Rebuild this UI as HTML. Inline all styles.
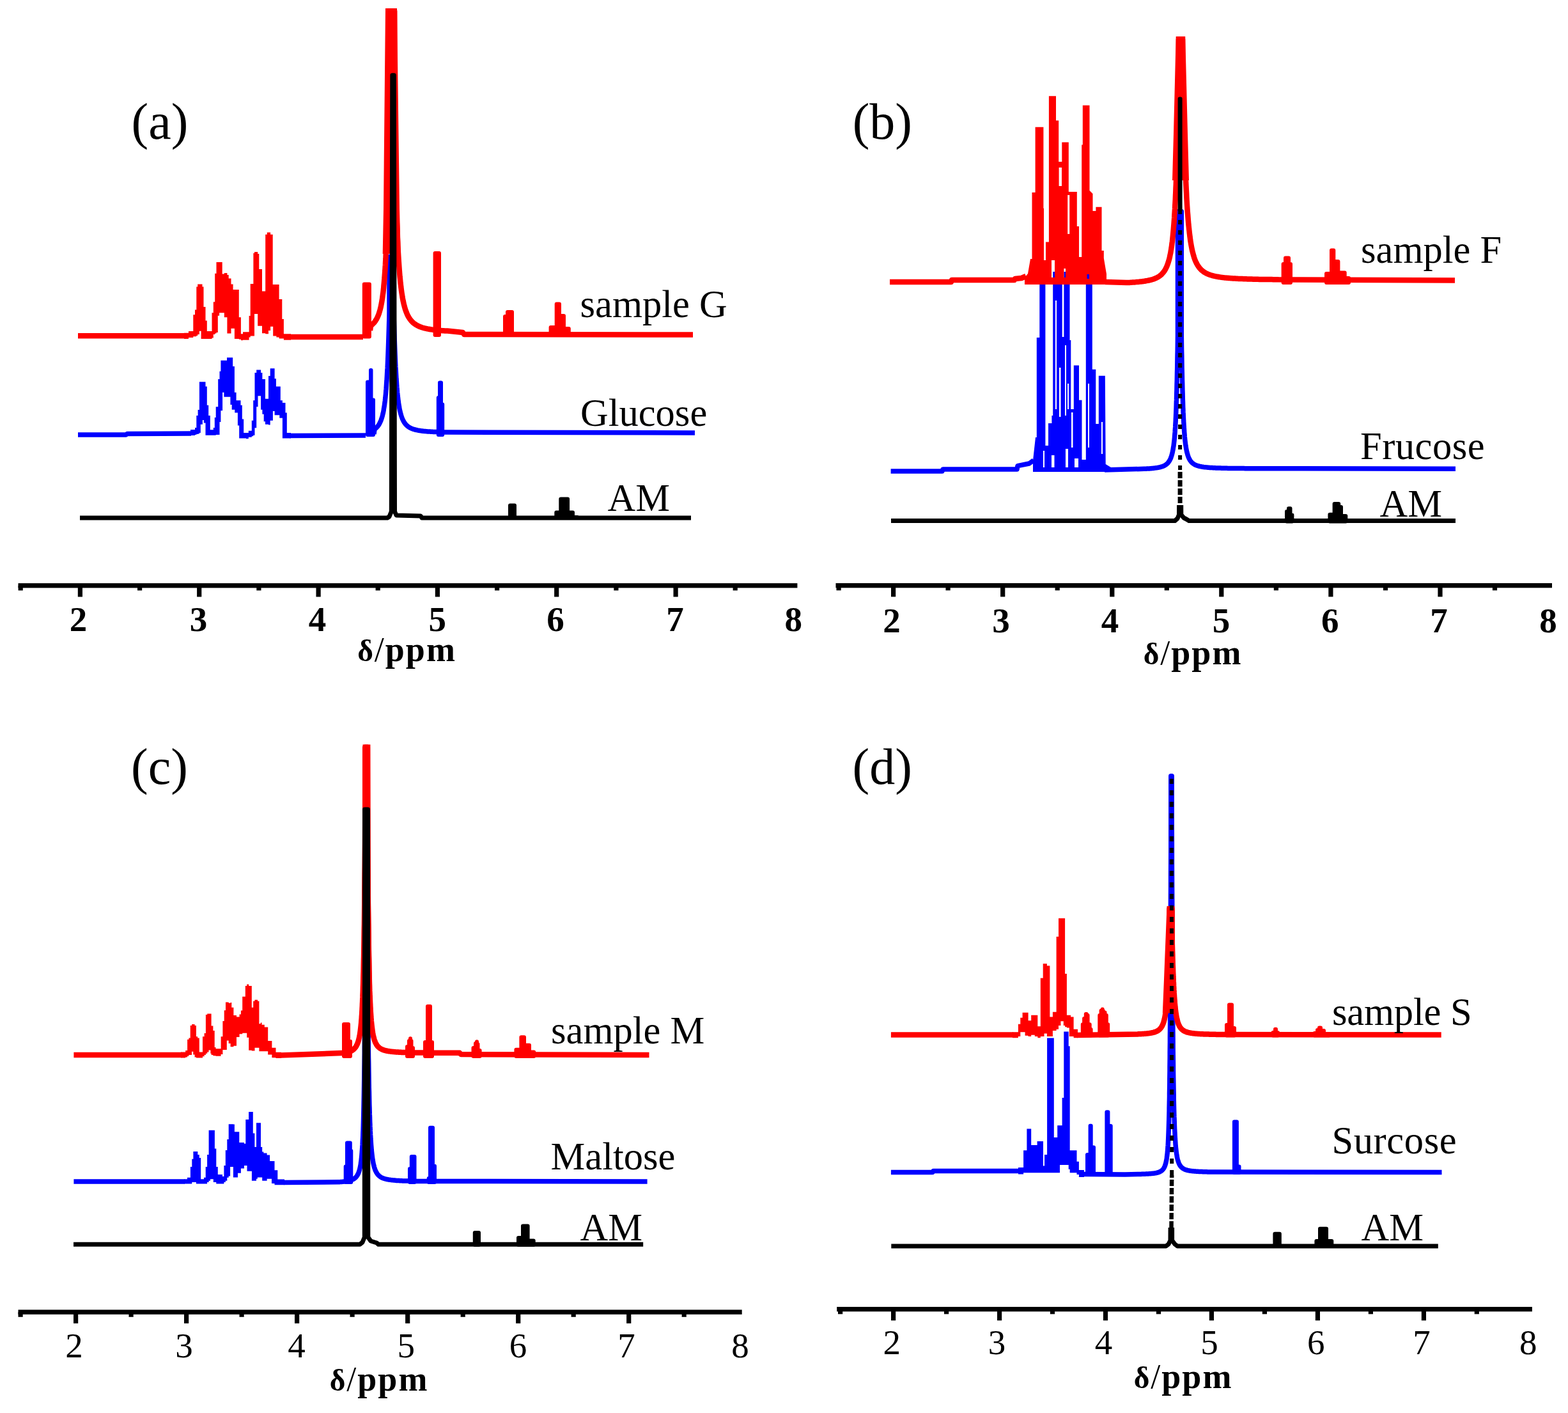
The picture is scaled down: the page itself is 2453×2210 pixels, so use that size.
<!DOCTYPE html>
<html><head><meta charset="utf-8"><title>NMR spectra</title>
<style>html,body{margin:0;padding:0;background:#fff;} svg{display:block;}</style></head>
<body><svg xmlns="http://www.w3.org/2000/svg" width="2453" height="2210" viewBox="0 0 2453 2210" font-family='"Liberation Serif", "Times New Roman", serif' fill="#000">
<rect width="2453" height="2210" fill="#fff"/>
<polygon points="298.0,672.0 305.0,672.0 305.0,669.0 307.3,669.0 307.3,650.0 309.6,650.0 309.6,641.0 311.9,641.0 311.9,597.3 313.8,597.3 313.8,597.3 316.9,597.3 316.9,597.3 318.8,597.3 318.8,597.3 321.5,597.3 321.5,604.6 323.8,604.6 323.8,633.8 326.2,633.8 326.2,650.0 328.8,650.0 328.8,672.3 333.8,672.3 333.8,669.0 335.8,669.0 335.8,653.0 337.7,653.0 337.7,636.2 341.2,636.2 341.2,593.1 343.5,593.1 343.5,580.8 345.4,580.8 345.4,563.8 348.1,563.8 348.1,563.8 350.4,563.8 350.4,563.8 355.0,563.8 355.0,559.2 360.4,559.2 360.4,559.2 362.7,559.2 362.7,559.2 364.2,559.2 364.2,573.1 366.9,573.1 366.9,613.8 367.3,613.8 367.3,613.8 369.6,613.8 369.6,626.2 371.9,626.2 371.9,626.2 374.2,626.2 374.2,626.2 376.5,626.2 376.5,633.8 378.8,633.8 378.8,655.4 381.2,655.4 381.2,677.0 385.0,677.0 385.0,677.0 388.8,677.0 388.8,673.8 393.8,673.8 393.8,657.7 396.2,657.7 396.2,626.2 398.5,626.2 398.5,583.1 401.2,583.1 401.2,578.5 403.5,578.5 403.5,578.5 405.8,578.5 405.8,578.5 408.1,578.5 408.1,583.1 410.4,583.1 410.4,593.1 412.7,593.1 412.7,593.1 415.0,593.1 415.0,623.8 420.0,623.8 420.0,588.0 422.7,588.0 422.7,576.2 426.9,576.2 426.9,576.2 429.6,576.2 429.6,592.3 431.9,592.3 431.9,604.6 437.3,604.6 437.3,604.6 438.8,604.6 438.8,626.2 441.9,626.2 441.9,630.0 446.5,630.0 446.5,645.4 448.8,645.4 448.8,677.0 455.0,677.0 455.0,685.4 448.8,685.4 448.8,685.4 446.5,685.4 446.5,685.4 441.9,685.4 441.9,653.8 438.8,653.8 438.8,653.8 437.3,653.8 437.3,649.2 431.9,649.2 431.9,649.2 429.6,649.2 429.6,643.0 426.9,643.0 426.9,657.7 422.7,657.7 422.7,664.6 420.0,664.6 420.0,663.8 415.0,663.8 415.0,659.2 412.7,659.2 412.7,647.7 410.4,647.7 410.4,640.8 408.1,640.8 408.1,619.2 405.8,619.2 405.8,619.2 403.5,619.2 403.5,636.2 401.2,636.2 401.2,669.2 398.5,669.2 398.5,680.8 396.2,680.8 396.2,682.3 393.8,682.3 393.8,683.8 388.8,683.8 388.8,686.2 385.0,686.2 385.0,685.4 381.2,685.4 381.2,685.4 378.8,685.4 378.8,685.4 376.5,685.4 376.5,685.4 374.2,685.4 374.2,665.4 371.9,665.4 371.9,645.4 369.6,645.4 369.6,645.4 367.3,645.4 367.3,640.8 366.9,640.8 366.9,640.8 364.2,640.8 364.2,640.8 362.7,640.8 362.7,633.1 360.4,633.1 360.4,620.8 355.0,620.8 355.0,620.8 350.4,620.8 350.4,613.8 348.1,613.8 348.1,642.3 345.4,642.3 345.4,660.0 343.5,660.0 343.5,680.0 341.2,680.0 341.2,680.0 337.7,680.0 337.7,680.8 335.8,680.8 335.8,680.8 333.8,680.8 333.8,680.8 328.8,680.8 328.8,680.8 326.2,680.8 326.2,680.8 323.8,680.8 323.8,680.8 321.5,680.8 321.5,661.5 318.8,661.5 318.8,657.0 316.9,657.0 316.9,663.8 313.8,663.8 313.8,677.0 311.9,677.0 311.9,678.5 309.6,678.5 309.6,679.0 307.3,679.0 307.3,680.0 305.0,680.0 305.0,681.0 298.0,681.0" fill="#0000ff" stroke="none"/>
<polygon points="575.0,680.0 575.0,597.5 580.0,597.5 580.0,579.0 580.5,579.0 580.5,625.6 584.0,625.6 584.0,680.0" fill="#0000ff" stroke="#0000ff" stroke-width="6.0" stroke-linejoin="round"/>
<polygon points="685.8,680.0 685.8,622.0 688.0,622.0 688.0,598.4 690.0,598.4 690.0,632.6 692.2,632.6 692.2,680.0" fill="#0000ff" stroke="#0000ff" stroke-width="6.0" stroke-linejoin="round"/>
<polyline points="122.0,680.0 197.0,680.0 199.0,678.5 299.0,678.0" fill="none" stroke="#0000ff" stroke-width="7.5" stroke-linejoin="round" stroke-linecap="butt"/>
<polyline points="453.0,681.5 572.0,681.0" fill="none" stroke="#0000ff" stroke-width="7.5" stroke-linejoin="round" stroke-linecap="butt"/>
<polyline points="585.0,679.0 586.0,671.4 586.3,671.2 586.9,670.8 587.4,670.3 587.9,669.9 588.4,669.4 589.0,668.9 589.4,668.4 589.9,667.9 590.4,667.4 590.9,666.8 591.3,666.2 591.8,665.6 592.2,664.9 592.7,664.3 593.1,663.6 593.5,662.9 593.9,662.1 594.3,661.3 594.7,660.5 595.1,659.6 595.5,658.7 595.9,657.8 596.2,656.9 596.6,655.8 596.9,654.8 597.3,653.7 597.6,652.6 598.0,651.4 598.3,650.1 598.6,648.9 598.9,647.5 599.3,646.1 599.6,644.7 599.9,643.2 600.2,641.6 600.4,639.9 600.7,638.2 601.0,636.5 601.3,634.6 601.6,632.7 601.8,630.6 602.1,628.6 602.4,626.4 602.6,624.1 602.9,621.7 603.1,619.2 603.4,616.7 603.6,614.0 603.8,611.2 604.1,608.3 604.3,605.3 604.5,602.1 604.7,598.8 605.0,595.4 605.2,591.8 605.4,588.1 605.6,584.2 605.8,580.2 606.1,576.0 606.3,571.6 606.5,567.1 606.7,562.3 606.9,557.4 607.1,552.2 607.3,546.9 607.5,541.3 607.7,535.5 607.9,529.4 608.1,523.1 608.3,516.5 608.5,509.7 608.7,502.5 608.9,495.1 609.0,487.3 609.0,479.3 609.0,470.9 609.0,462.1 609.0,453.0 609.0,443.5 609.0,433.6 609.0,423.3 609.0,412.5 609.0,401.4 616.0,401.4 616.0,412.4 616.0,423.0 616.0,433.1 616.0,442.9 616.0,452.2 616.0,461.2 616.0,469.9 616.0,478.1 616.0,486.1 616.1,493.7 616.3,501.1 616.5,508.1 616.7,514.9 616.9,521.3 617.1,527.6 617.3,533.6 617.5,539.3 617.7,544.8 617.9,550.1 618.1,555.2 618.3,560.0 618.5,564.7 618.7,569.2 618.9,573.5 619.2,577.7 619.4,581.6 619.6,585.4 619.8,589.1 620.0,592.6 620.3,596.0 620.5,599.2 620.7,602.3 620.9,605.3 621.2,608.2 621.4,611.0 621.6,613.6 621.9,616.1 622.1,618.6 622.4,620.9 622.6,623.1 622.9,625.3 623.2,627.4 623.4,629.4 623.7,631.3 624.0,633.1 624.3,634.8 624.6,636.5 624.8,638.2 625.1,639.7 625.4,641.2 625.7,642.6 626.1,644.0 626.4,645.3 626.7,646.6 627.0,647.8 627.4,649.0 627.7,650.1 628.1,651.2 628.4,652.2 628.8,653.2 629.1,654.1 629.5,655.1 629.9,655.9 630.3,656.8 630.7,657.6 631.1,658.4 631.5,659.1 631.9,659.8 632.3,660.5 632.8,661.2 633.2,661.8 633.7,662.4 634.1,663.0 634.6,663.6 635.1,664.1 635.6,664.6 636.0,665.1 636.6,665.6 637.1,666.0 637.6,666.5 638.1,666.9 638.7,667.3 639.2,667.7 639.8,668.1 640.4,668.4 641.0,668.8 641.6,669.1 642.2,669.4 642.8,669.7 643.5,670.0 644.1,670.3 644.8,670.6 645.5,670.8 646.2,671.1 646.9,671.3 647.6,671.5 648.4,671.7 649.1,672.0 649.9,672.2 650.7,672.3 651.5,672.5 652.3,672.7 653.1,672.9 654.0,673.1 654.8,673.2 655.7,673.4 656.6,673.5 657.5,673.6 658.5,673.8 659.4,673.9 660.4,674.0 661.4,674.2 662.4,674.3 663.5,674.4 664.5,674.5 665.6,674.6 666.7,674.7 667.9,674.8 669.0,674.9 670.2,674.9 671.4,675.0 672.6,675.1 673.9,675.2 675.1,675.3 676.4,675.3 677.8,675.4 679.1,675.5 680.5,675.5 681.9,675.6 683.3,675.6 684.8,675.7 686.3,675.7 687.8,675.8 689.4,675.8 691.0,675.9 692.6,675.9 694.3,676.0 696.0,676.0 697.7,676.1 699.4,676.1 700.0,676.1 1087.0,677.0" fill="none" stroke="#0000ff" stroke-width="7.5" stroke-linejoin="round" stroke-linecap="butt"/>
<polygon points="288.0,520.8 295.0,520.8 295.0,518.0 302.3,518.0 302.3,492.3 305.0,492.3 305.0,484.6 307.3,484.6 307.3,448.5 309.2,448.5 309.2,444.6 311.9,444.6 311.9,444.6 314.6,444.6 314.6,444.6 316.5,444.6 316.5,448.5 318.5,448.5 318.5,480.0 321.5,480.0 321.5,501.5 323.8,501.5 323.8,518.0 331.5,518.0 331.5,489.2 333.8,489.2 333.8,472.3 336.2,472.3 336.2,427.7 338.5,427.7 338.5,410.0 340.8,410.0 340.8,410.0 343.1,410.0 343.1,410.0 347.7,410.0 347.7,428.5 350.8,428.5 350.8,426.9 355.4,426.9 355.4,430.0 357.7,430.0 357.7,435.4 361.5,435.4 361.5,444.6 364.6,444.6 364.6,453.0 366.9,453.0 366.9,453.0 373.8,453.0 373.8,496.2 376.9,496.2 376.9,522.3 380.0,522.3 380.0,519.2 389.6,519.2 389.6,494.1 391.7,494.1 391.7,444.0 396.4,444.0 396.4,396.0 398.0,396.0 398.0,393.9 400.0,393.9 400.0,393.9 403.2,393.9 403.2,397.0 405.3,397.0 405.3,421.0 410.0,421.0 410.0,455.5 415.2,455.5 415.2,366.7 417.8,366.7 417.8,363.6 420.0,363.6 420.0,363.6 423.1,363.6 423.1,366.7 426.7,366.7 426.7,445.0 427.2,445.0 427.2,445.0 432.4,445.0 432.4,445.0 436.6,445.0 436.6,468.0 441.3,468.0 441.3,499.0 443.9,499.0 443.9,522.3 455.0,522.3 455.0,531.7 443.9,531.7 443.9,529.6 441.3,529.6 441.3,529.6 436.6,529.6 436.6,527.5 432.4,527.5 432.4,525.5 427.2,525.5 427.2,510.8 426.7,510.8 426.7,510.8 423.1,510.8 423.1,517.0 420.0,517.0 420.0,522.3 417.8,522.3 417.8,522.3 415.2,522.3 415.2,521.3 410.0,521.3 410.0,509.8 405.3,509.8 405.3,509.8 403.2,509.8 403.2,491.0 400.0,491.0 400.0,491.0 398.0,491.0 398.0,525.5 396.4,525.5 396.4,525.5 391.7,525.5 391.7,527.5 389.6,527.5 389.6,531.7 380.0,531.7 380.0,532.3 376.9,532.3 376.9,530.8 373.8,530.8 373.8,530.0 366.9,530.0 366.9,513.8 364.6,513.8 364.6,513.8 361.5,513.8 361.5,521.5 357.7,521.5 357.7,521.5 355.4,521.5 355.4,496.2 350.8,496.2 350.8,489.2 347.7,489.2 347.7,489.2 343.1,489.2 343.1,493.8 340.8,493.8 340.8,520.0 338.5,520.0 338.5,521.5 336.2,521.5 336.2,523.0 333.8,523.0 333.8,528.5 331.5,528.5 331.5,530.0 323.8,530.0 323.8,530.0 321.5,530.0 321.5,530.0 318.5,530.0 318.5,530.0 316.5,530.0 316.5,530.0 314.6,530.0 314.6,517.7 311.9,517.7 311.9,523.0 309.2,523.0 309.2,525.0 307.3,525.0 307.3,526.2 305.0,526.2 305.0,526.2 302.3,526.2 302.3,528.0 295.0,528.0 295.0,530.0 288.0,530.0" fill="#ff0000" stroke="none"/>
<polygon points="569.8,526.5 569.8,444.5 577.9,444.5 577.9,526.5" fill="#ff0000" stroke="#ff0000" stroke-width="6.0" stroke-linejoin="round"/>
<polygon points="680.6,524.0 680.6,396.0 687.0,396.0 687.0,524.0" fill="#ff0000" stroke="#ff0000" stroke-width="6.0" stroke-linejoin="round"/>
<polygon points="790.0,524.0 790.0,495.0 794.0,495.0 794.0,488.0 801.0,488.0 801.0,524.0" fill="#ff0000" stroke="#ff0000" stroke-width="6.0" stroke-linejoin="round"/>
<polygon points="861.6,524.0 861.6,512.0 870.7,512.0 870.7,475.4 875.0,475.4 875.0,494.0 882.0,494.0 882.0,514.0 889.8,514.0 889.8,524.0" fill="#ff0000" stroke="#ff0000" stroke-width="6.0" stroke-linejoin="round"/>
<polyline points="122.0,525.2 289.0,525.2" fill="none" stroke="#ff0000" stroke-width="8.5" stroke-linejoin="round" stroke-linecap="butt"/>
<polyline points="454.0,527.0 568.0,527.0" fill="none" stroke="#ff0000" stroke-width="8.5" stroke-linejoin="round" stroke-linecap="butt"/>
<polyline points="579.0,517.0 580.0,509.4 580.2,509.2 580.9,508.7 581.5,508.2 582.2,507.7 582.8,507.1 583.4,506.6 584.0,505.9 584.6,505.3 585.2,504.7 585.8,504.0 586.3,503.3 586.9,502.5 587.4,501.8 587.9,501.0 588.4,500.1 589.0,499.3 589.4,498.4 589.9,497.4 590.4,496.4 590.9,495.4 591.3,494.3 591.8,493.2 592.2,492.1 592.7,490.9 593.1,489.6 593.5,488.3 593.9,487.0 594.3,485.5 594.7,484.1 595.1,482.5 595.5,480.9 595.9,479.2 596.2,477.5 596.6,475.7 596.9,473.8 597.3,471.8 597.6,469.8 598.0,467.7 598.3,465.4 598.6,463.1 598.9,460.7 599.3,458.2 599.6,455.6 599.9,452.8 600.2,450.0 600.4,447.0 600.7,444.0 601.0,440.8 601.3,437.4 601.6,433.9 601.8,430.3 602.1,426.5 602.4,422.6 602.6,418.5 602.9,414.2 603.1,409.8 603.4,405.1 603.6,400.3 603.8,395.3 604.1,390.0 604.3,384.6 604.5,378.9 604.7,373.0 605.0,366.8 605.2,360.4 605.4,353.7 605.6,346.7 605.8,339.5 606.1,331.9 606.3,324.0 606.5,315.8 606.7,307.2 606.9,298.3 607.1,289.1 607.3,279.4 607.5,269.3 607.7,258.8 607.8,247.9 607.8,236.5 607.8,224.7 607.8,212.3 607.8,199.5 607.8,186.1 607.8,172.1 607.8,157.6 607.8,142.5 607.8,126.7 607.8,110.3 607.8,93.1 607.8,75.3 607.8,56.7 607.8,37.4 607.8,17.2 617.2,17.2 617.2,37.4 617.2,56.7 617.2,75.2 617.2,93.0 617.2,110.1 617.2,126.5 617.2,142.2 617.2,157.3 617.2,171.8 617.2,185.8 617.2,199.1 617.3,212.0 617.5,224.3 617.8,236.1 618.0,247.5 618.3,258.4 618.5,268.8 618.7,278.9 619.0,288.5 619.2,297.8 619.5,306.7 619.7,315.2 620.0,323.4 620.2,331.3 620.5,338.8 620.7,346.1 621.0,353.0 621.3,359.7 621.5,366.1 621.8,372.3 622.1,378.2 622.3,383.8 622.6,389.3 622.9,394.5 623.2,399.5 623.5,404.4 623.8,409.0 624.1,413.4 624.4,417.7 624.7,421.8 625.0,425.7 625.3,429.5 625.6,433.1 626.0,436.6 626.3,439.9 626.6,443.1 627.0,446.2 627.3,449.1 627.7,452.0 628.0,454.7 628.4,457.3 628.8,459.8 629.2,462.2 629.5,464.5 629.9,466.8 630.3,468.9 630.7,470.9 631.2,472.9 631.6,474.8 632.0,476.6 632.5,478.3 632.9,480.0 633.4,481.6 633.8,483.1 634.3,484.6 634.8,486.0 635.3,487.4 635.8,488.7 636.3,489.9 636.8,491.1 637.3,492.3 637.9,493.4 638.4,494.5 639.0,495.5 639.6,496.5 640.2,497.4 640.8,498.3 641.4,499.2 642.0,500.0 642.6,500.8 643.3,501.6 643.9,502.3 644.6,503.0 645.3,503.7 646.0,504.4 646.7,505.0 647.4,505.6 648.2,506.2 648.9,506.7 649.7,507.2 650.5,507.8 651.3,508.2 652.1,508.7 652.9,509.2 653.8,509.6 654.6,510.0 655.5,510.4 656.4,510.8 657.4,511.2 658.3,511.5 659.3,511.9 660.2,512.2 661.2,512.5 662.3,512.8 663.3,513.1 664.4,513.4 665.5,513.6 666.6,513.9 667.7,514.1 668.8,514.4 670.0,514.6 671.2,514.8 672.4,515.0 673.7,515.2 675.0,515.4 676.3,515.6 677.6,515.8 678.9,515.9 680.3,516.1 681.7,516.3 683.2,516.4 684.6,516.5 686.1,516.7 687.7,516.8 689.2,516.9 690.8,517.1 692.4,517.2 694.1,517.3 695.8,517.4 697.5,517.5 699.3,517.6 700.0,517.6 724.0,520.0 726.0,523.0 1084.0,523.5" fill="none" stroke="#ff0000" stroke-width="8.5" stroke-linejoin="round" stroke-linecap="butt"/>
<polygon points="603.0,13.0 621.0,13.0 625.0,326.0 626.8,397.0 598.7,397.0 600.0,326.0" fill="#ff0000" stroke="none"/>
<polygon points="798.0,810.0 798.0,790.5 805.0,790.5 805.0,810.0" fill="#000000" stroke="#000000" stroke-width="6.0" stroke-linejoin="round"/>
<polygon points="870.3,810.0 870.3,801.4 877.3,801.4 877.3,780.6 888.1,780.6 888.1,801.4 896.0,801.4 896.0,809.0 903.0,809.0 903.0,810.0" fill="#000000" stroke="#000000" stroke-width="6.0" stroke-linejoin="round"/>
<polyline points="125.0,810.0 606.0,810.0 609.0,808.0 612.3,800.0 613.8,117.7 616.3,117.7 617.5,800.0 620.0,806.0 658.0,807.0 660.0,810.0 1081.0,810.0" fill="none" stroke="#000000" stroke-width="7.0" stroke-linejoin="round" stroke-linecap="butt"/>
<path d="M1616.0,738.0 L1616.0,720.0 L1620.0,684.0 L1621.8,684.0 L1621.8,528.0 L1626.3,528.0 L1626.3,425.0 L1635.4,425.0 L1635.4,697.0 L1640.0,697.0 L1640.0,662.0 L1645.4,662.0 L1645.4,650.0 L1647.2,650.0 L1647.2,425.0 L1661.7,425.0 L1661.7,527.0 L1664.4,527.0 L1664.4,425.0 L1673.5,425.0 L1673.5,532.0 L1675.3,532.0 L1675.3,640.0 L1679.8,640.0 L1679.8,571.4 L1688.0,571.4 L1688.0,625.8 L1692.5,625.8 L1692.5,719.0 L1698.8,719.0 L1698.8,425.0 L1708.8,425.0 L1708.8,577.7 L1714.3,577.7 L1714.3,663.0 L1718.8,663.0 L1718.8,587.7 L1728.8,587.7 L1729.7,726.0 L1739.6,732.0 L1739.6,738.0 Z M1651.0,470.0 L1653.0,470.0 L1653.0,640.0 L1651.0,640.0 Z M1657.0,575.0 L1659.5,575.0 L1659.5,652.0 L1657.0,652.0 Z M1666.0,540.0 L1668.0,540.0 L1668.0,650.0 L1666.0,650.0 Z M1670.0,600.0 L1672.0,600.0 L1672.0,640.0 L1670.0,640.0 Z M1676.0,645.0 L1678.5,645.0 L1678.5,700.0 L1676.0,700.0 Z M1645.0,712.0 L1649.5,712.0 L1649.5,731.0 L1645.0,731.0 Z M1667.0,702.0 L1671.0,702.0 L1671.0,731.0 L1667.0,731.0 Z M1681.0,717.0 L1687.0,717.0 L1687.0,731.0 L1681.0,731.0 Z M1632.0,705.0 L1634.0,705.0 L1634.0,731.0 L1632.0,731.0 Z M1702.0,600.0 L1704.0,600.0 L1704.0,700.0 L1702.0,700.0 Z M1723.0,660.0 L1725.0,660.0 L1725.0,710.0 L1723.0,710.0 Z" fill="#0000ff" fill-rule="evenodd"/>
<polyline points="1393.6,737.0 1474.0,737.0 1475.0,734.0 1591.0,734.0 1592.0,728.7 1610.0,725.0 1617.0,720.0" fill="none" stroke="#0000ff" stroke-width="7.5" stroke-linejoin="round" stroke-linecap="butt"/>
<polyline points="1728.0,735.0 1790.0,733.3 1791.0,733.3 1792.2,733.2 1793.2,733.2 1794.3,733.1 1795.3,733.1 1796.3,733.0 1797.3,732.9 1798.3,732.9 1799.3,732.8 1800.2,732.7 1801.1,732.7 1802.0,732.6 1802.9,732.5 1803.8,732.4 1804.6,732.3 1805.4,732.2 1806.2,732.1 1807.0,732.0 1807.8,731.9 1808.6,731.8 1809.3,731.7 1810.1,731.6 1810.8,731.5 1811.5,731.4 1812.2,731.2 1812.9,731.1 1813.5,731.0 1814.2,730.8 1814.8,730.7 1815.4,730.5 1816.0,730.3 1816.6,730.2 1817.2,730.0 1817.8,729.8 1818.4,729.6 1818.9,729.4 1819.5,729.2 1820.0,728.9 1820.5,728.7 1821.0,728.5 1821.5,728.2 1822.0,728.0 1822.5,727.7 1823.0,727.4 1823.4,727.1 1823.9,726.8 1824.3,726.5 1824.8,726.1 1825.2,725.8 1825.6,725.4 1826.0,725.1 1826.4,724.7 1826.8,724.3 1827.2,723.8 1827.6,723.4 1827.9,722.9 1828.3,722.4 1828.7,721.9 1829.0,721.4 1829.4,720.9 1829.7,720.3 1830.0,719.7 1830.3,719.1 1830.7,718.4 1831.0,717.8 1831.3,717.1 1831.6,716.4 1831.9,715.6 1832.1,714.8 1832.4,714.0 1832.7,713.1 1833.0,712.2 1833.2,711.3 1833.5,710.4 1833.8,709.3 1834.0,708.3 1834.3,707.2 1834.5,706.1 1834.7,704.9 1835.0,703.7 1835.2,702.4 1835.4,701.0 1835.6,699.6 1835.9,698.2 1836.1,696.7 1836.3,695.1 1836.5,693.5 1836.7,691.7 1836.9,690.0 1837.1,688.1 1837.3,686.2 1837.5,684.2 1837.6,682.1 1837.8,679.9 1838.0,677.6 1838.2,675.2 1838.3,672.8 1838.5,670.2 1838.7,667.5 1838.8,664.7 1839.0,661.8 1839.2,658.8 1839.3,655.6 1839.5,652.3 1839.6,648.9 1839.8,645.3 1839.9,641.6 1840.1,637.8 1840.2,633.7 1840.3,629.5 1840.5,625.2 1840.6,620.6 1840.7,615.9 1840.9,610.9 1841.0,605.8 1841.1,600.4 1841.3,594.8 1841.4,589.0 1841.5,582.9 1841.7,576.6 1841.8,570.0 1841.9,563.2 1842.0,556.0 1842.2,548.6 1842.3,540.9 1842.4,532.8 1842.5,524.4 1842.5,515.6 1842.5,506.5 1842.5,497.0 1842.5,487.1 1842.5,476.8 1842.5,466.1 1842.5,454.9 1842.5,443.2 1842.5,431.1 1842.5,418.5 1842.5,405.3 1842.5,391.6 1842.5,377.3 1842.5,362.4 1842.5,346.9 1842.5,330.8 1848.3,330.8 1848.3,346.8 1848.3,362.3 1848.3,377.1 1848.3,391.4 1848.3,405.0 1848.3,418.1 1848.3,430.7 1848.3,442.8 1848.3,454.4 1848.3,465.6 1848.3,476.3 1848.3,486.5 1848.3,496.4 1848.3,505.9 1848.3,514.9 1848.3,523.7 1848.4,532.0 1848.5,540.1 1848.6,547.8 1848.8,555.2 1848.9,562.3 1849.0,569.1 1849.1,575.7 1849.3,582.0 1849.4,588.0 1849.5,593.8 1849.7,599.4 1849.8,604.7 1849.9,609.9 1850.1,614.8 1850.2,619.5 1850.3,624.1 1850.5,628.4 1850.6,632.6 1850.7,636.6 1850.9,640.5 1851.0,644.2 1851.2,647.7 1851.3,651.1 1851.5,654.4 1851.6,657.6 1851.8,660.6 1852.0,663.5 1852.1,666.3 1852.3,668.9 1852.5,671.5 1852.6,673.9 1852.8,676.3 1853.0,678.6 1853.2,680.8 1853.3,682.8 1853.5,684.8 1853.7,686.8 1853.9,688.6 1854.1,690.4 1854.3,692.1 1854.5,693.7 1854.7,695.3 1854.9,696.8 1855.2,698.3 1855.4,699.7 1855.6,701.0 1855.8,702.3 1856.1,703.5 1856.3,704.7 1856.5,705.8 1856.8,706.9 1857.0,707.9 1857.3,708.9 1857.6,709.9 1857.8,710.8 1858.1,711.7 1858.4,712.6 1858.7,713.4 1858.9,714.2 1859.2,714.9 1859.5,715.6 1859.8,716.3 1860.1,717.0 1860.5,717.6 1860.8,718.3 1861.1,718.9 1861.4,719.4 1861.8,720.0 1862.1,720.5 1862.5,721.0 1862.9,721.5 1863.2,721.9 1863.6,722.4 1864.0,722.8 1864.4,723.2 1864.8,723.6 1865.2,724.0 1865.6,724.3 1866.0,724.7 1866.5,725.0 1866.9,725.3 1867.4,725.6 1867.8,725.9 1868.3,726.2 1868.8,726.5 1869.3,726.7 1869.8,727.0 1870.3,727.2 1870.8,727.5 1871.3,727.7 1871.9,727.9 1872.4,728.1 1873.0,728.3 1873.6,728.5 1874.2,728.7 1874.8,728.8 1875.4,729.0 1876.0,729.2 1876.6,729.3 1877.3,729.5 1877.9,729.6 1878.6,729.7 1879.3,729.9 1880.0,730.0 1880.7,730.1 1881.5,730.2 1882.2,730.3 1883.0,730.5 1883.8,730.6 1884.6,730.7 1885.4,730.7 1886.2,730.8 1887.0,730.9 1887.9,731.0 1888.8,731.1 1889.7,731.2 1890.6,731.2 1891.5,731.3 1892.5,731.4 1893.5,731.4 1894.5,731.5 1895.5,731.6 1896.5,731.6 1897.6,731.7 1898.6,731.7 1899.8,731.8 1900.9,731.8 1902.0,731.9 1903.2,731.9 1904.4,732.0 1905.6,732.0 1906.9,732.0 1908.1,732.1 1909.4,732.1 1910.7,732.2 1912.1,732.2 1913.5,732.2 1914.9,732.3 1916.3,732.3 1917.8,732.3 1919.3,732.3 1920.8,732.4 1922.4,732.4 1923.9,732.4 1925.6,732.4 1927.2,732.5 1928.9,732.5 1930.6,732.5 1932.4,732.5 1934.2,732.5 1936.0,732.6 1937.9,732.6 1939.8,732.6 1941.8,732.6 1943.7,732.6 1945.8,732.6 1947.8,732.7 1950.0,732.7 1950.0,732.7 2277.0,733.3" fill="none" stroke="#0000ff" stroke-width="7.5" stroke-linejoin="round" stroke-linecap="butt"/>
<path d="M1603.0,445.0 L1603.0,434.0 L1608.0,428.0 L1612.0,405.0 L1614.5,405.0 L1614.5,301.0 L1619.6,301.0 L1619.6,198.8 L1632.4,198.8 L1632.4,325.7 L1633.0,325.7 L1633.0,407.0 L1636.0,407.0 L1636.0,378.5 L1640.9,378.5 L1640.9,150.2 L1652.0,150.2 L1652.0,188.5 L1656.2,188.5 L1656.2,253.0 L1661.3,253.0 L1661.3,222.6 L1671.8,222.6 L1671.8,300.0 L1684.8,300.0 L1684.8,354.0 L1688.0,354.0 L1688.0,402.0 L1692.2,402.0 L1692.2,226.6 L1693.8,226.6 L1693.8,164.8 L1704.5,164.8 L1704.5,298.0 L1709.5,303.0 L1709.5,330.0 L1714.4,330.0 L1714.4,323.8 L1723.5,323.8 L1723.5,392.0 L1726.8,392.0 L1726.8,403.7 L1731.0,428.5 L1731.0,445.0 Z M1656.6,262.0 L1661.0,262.0 L1661.0,291.0 L1656.6,291.0 Z M1670.2,305.0 L1673.2,305.0 L1673.2,366.0 L1670.2,366.0 Z M1645.0,407.0 L1650.0,407.0 L1650.0,434.0 L1645.0,434.0 Z M1664.4,420.0 L1667.0,420.0 L1667.0,434.0 L1664.4,434.0 Z M1700.5,429.0 L1704.0,429.0 L1704.0,436.0 L1700.5,436.0 Z" fill="#ff0000" fill-rule="evenodd"/>
<polygon points="2007.6,442.0 2007.6,413.0 2011.0,413.0 2011.0,403.4 2016.0,403.4 2016.0,413.0 2019.0,413.0 2019.0,442.0" fill="#ff0000" stroke="#ff0000" stroke-width="6.0" stroke-linejoin="round"/>
<polygon points="2075.0,442.0 2075.0,428.0 2083.0,428.0 2083.0,391.5 2086.3,391.5 2086.3,409.0 2093.4,409.0 2093.4,426.4 2103.7,426.4 2103.7,435.0 2110.0,435.0 2110.0,442.0" fill="#ff0000" stroke="#ff0000" stroke-width="6.0" stroke-linejoin="round"/>
<polyline points="1392.0,441.0 1488.0,441.0 1489.0,438.0 1587.0,438.0 1588.0,436.0 1598.0,435.0 1605.0,432.0" fill="none" stroke="#ff0000" stroke-width="8.5" stroke-linejoin="round" stroke-linecap="butt"/>
<polyline points="1729.0,441.0 1762.0,442.1 1763.7,442.0 1765.4,441.9 1767.1,441.9 1768.7,441.8 1770.3,441.7 1771.8,441.6 1773.4,441.5 1774.9,441.4 1776.3,441.3 1777.8,441.1 1779.2,441.0 1780.6,440.9 1781.9,440.8 1783.2,440.6 1784.5,440.5 1785.8,440.4 1787.1,440.2 1788.3,440.0 1789.5,439.9 1790.7,439.7 1791.8,439.5 1792.9,439.3 1794.0,439.1 1795.1,438.9 1796.2,438.7 1797.2,438.5 1798.3,438.3 1799.3,438.0 1800.2,437.8 1801.2,437.5 1802.1,437.3 1803.1,437.0 1804.0,436.7 1804.9,436.4 1805.7,436.1 1806.6,435.8 1807.4,435.4 1808.2,435.0 1809.0,434.7 1809.8,434.3 1810.6,433.9 1811.3,433.5 1812.1,433.0 1812.8,432.6 1813.5,432.1 1814.2,431.6 1814.9,431.1 1815.6,430.5 1816.2,430.0 1816.9,429.4 1817.5,428.8 1818.1,428.1 1818.7,427.5 1819.3,426.8 1819.9,426.1 1820.5,425.3 1821.1,424.6 1821.6,423.7 1822.2,422.9 1822.7,422.0 1823.2,421.1 1823.7,420.2 1824.2,419.2 1824.7,418.1 1825.2,417.1 1825.7,415.9 1826.1,414.8 1826.6,413.5 1827.0,412.3 1827.5,410.9 1827.9,409.6 1828.3,408.1 1828.8,406.6 1829.2,405.1 1829.6,403.5 1830.0,401.8 1830.3,400.0 1830.7,398.2 1831.1,396.3 1831.5,394.3 1831.8,392.2 1832.2,390.1 1832.5,387.8 1832.9,385.5 1833.2,383.0 1833.5,380.5 1833.9,377.8 1834.2,375.1 1834.5,372.2 1834.8,369.2 1835.1,366.1 1835.4,362.9 1835.7,359.5 1836.0,356.0 1836.3,352.3 1836.6,348.5 1836.9,344.5 1837.2,340.3 1837.4,336.0 1837.7,331.5 1838.0,326.8 1838.2,322.0 1838.5,316.9 1838.8,311.6 1839.0,306.1 1839.3,300.3 1839.5,294.3 1839.8,288.1 1840.0,281.6 1840.3,274.8 1840.5,267.8 1840.8,260.4 1841.0,252.8 1841.2,244.8 1841.5,236.5 1841.7,227.9 1842.0,218.9 1842.2,209.5 1842.5,199.7 1842.7,189.5 1843.0,178.9 1843.3,167.9 1843.5,156.4 1843.8,144.4 1844.0,131.9 1844.0,118.9 1844.0,105.4 1844.0,91.3 1844.0,76.6 1844.0,61.2 1850.0,61.2 1850.0,76.3 1850.0,90.8 1850.0,104.7 1850.0,118.0 1850.2,130.8 1850.6,143.1 1850.9,154.9 1851.2,166.2 1851.5,177.1 1851.8,187.5 1852.1,197.5 1852.4,207.2 1852.7,216.4 1853.0,225.3 1853.2,233.8 1853.5,241.9 1853.8,249.8 1854.1,257.3 1854.4,264.5 1854.6,271.5 1854.9,278.1 1855.2,284.5 1855.5,290.7 1855.8,296.6 1856.1,302.2 1856.3,307.7 1856.6,312.9 1856.9,317.9 1857.2,322.7 1857.5,327.3 1857.8,331.7 1858.2,336.0 1858.5,340.1 1858.8,344.0 1859.1,347.7 1859.4,351.3 1859.8,354.8 1860.1,358.1 1860.5,361.3 1860.8,364.4 1861.2,367.3 1861.5,370.2 1861.9,372.9 1862.2,375.5 1862.6,378.0 1863.0,380.4 1863.4,382.7 1863.8,384.9 1864.2,387.0 1864.6,389.1 1865.0,391.0 1865.4,392.9 1865.9,394.7 1866.3,396.4 1866.8,398.1 1867.2,399.7 1867.7,401.2 1868.1,402.7 1868.6,404.1 1869.1,405.5 1869.6,406.8 1870.1,408.0 1870.6,409.2 1871.2,410.4 1871.7,411.5 1872.3,412.5 1872.8,413.6 1873.4,414.5 1874.0,415.5 1874.6,416.4 1875.2,417.2 1875.8,418.1 1876.4,418.9 1877.0,419.6 1877.7,420.4 1878.3,421.1 1879.0,421.7 1879.7,422.4 1880.4,423.0 1881.1,423.6 1881.9,424.2 1882.6,424.7 1883.4,425.3 1884.2,425.8 1884.9,426.3 1885.7,426.7 1886.6,427.2 1887.4,427.6 1888.3,428.0 1889.1,428.4 1890.0,428.8 1890.9,429.2 1891.9,429.5 1892.8,429.9 1893.8,430.2 1894.8,430.5 1895.8,430.8 1896.8,431.1 1897.8,431.4 1898.9,431.6 1900.0,431.9 1901.1,432.1 1902.2,432.4 1903.4,432.6 1904.6,432.8 1905.8,433.0 1907.0,433.2 1908.3,433.4 1909.5,433.6 1910.8,433.8 1912.2,433.9 1913.5,434.1 1914.9,434.3 1916.3,434.4 1917.8,434.6 1919.3,434.7 1920.8,434.8 1922.3,435.0 1923.9,435.1 1925.5,435.2 1927.1,435.3 1928.7,435.4 1930.4,435.5 1932.2,435.6 1933.9,435.7 1935.7,435.8 1937.6,435.9 1939.5,436.0 1941.4,436.1 1943.3,436.1 1945.3,436.2 1947.4,436.3 1949.5,436.3 1951.6,436.4 1953.7,436.5 1955.9,436.5 1958.2,436.6 1960.5,436.7 1962.9,436.7 1965.3,436.8 1967.7,436.8 1970.2,436.9 1972.7,436.9 1975.3,436.9 1978.0,437.0 1980.7,437.0 1983.5,437.1 1986.3,437.1 1989.2,437.1 1992.1,437.2 1995.1,437.2 1998.2,437.2 2000.0,437.3 2030.0,437.5 2276.0,438.5" fill="none" stroke="#ff0000" stroke-width="8.5" stroke-linejoin="round" stroke-linecap="butt"/>
<polygon points="1839.7,57.0 1854.2,57.0 1858.0,209.0 1860.0,282.0 1834.0,282.0 1836.0,209.0" fill="#ff0000" stroke="none"/>
<polygon points="2013.0,815.4 2013.0,800.0 2016.0,800.0 2016.0,795.3 2018.5,795.3 2018.5,805.6 2021.4,805.6 2021.4,815.4" fill="#000000" stroke="#000000" stroke-width="6.0" stroke-linejoin="round"/>
<polygon points="2080.4,815.4 2080.4,804.8 2087.6,804.8 2087.6,788.0 2094.2,788.0 2094.2,793.0 2098.0,793.0 2098.0,807.0 2105.3,807.0 2105.3,815.4" fill="#000000" stroke="#000000" stroke-width="6.0" stroke-linejoin="round"/>
<polyline points="1394.0,814.5 1838.0,814.5 1842.0,811.0 1844.5,805.0 1844.6,790.0" fill="none" stroke="#000000" stroke-width="7.0" stroke-linejoin="round" stroke-linecap="butt"/>
<polyline points="1847.7,790.0 1847.8,805.0 1852.0,810.0 1856.0,812.0 1860.0,814.5 2277.0,814.5" fill="none" stroke="#000000" stroke-width="7.0" stroke-linejoin="round" stroke-linecap="butt"/>
<polyline points="1845.6,330.0 1845.6,154.5 1846.6,154.5 1846.6,330.0" fill="none" stroke="#000000" stroke-width="6" stroke-linejoin="round" stroke-linecap="butt"/>
<polyline points="1846.1,735.0 1846.1,330.0" fill="none" stroke="#000000" stroke-width="6" stroke-linejoin="round" stroke-dasharray="7 9"/>
<polyline points="1846.1,800.0 1846.1,735.0" fill="none" stroke="#000000" stroke-width="7" stroke-linejoin="round" stroke-dasharray="10 3"/>
<polygon points="288.0,1844.3 293.0,1844.3 293.0,1841.8 297.9,1841.8 297.9,1824.9 300.3,1824.9 300.3,1812.8 302.4,1812.8 302.4,1801.1 306.9,1801.1 306.9,1801.1 309.3,1801.1 309.3,1805.9 311.8,1805.9 311.8,1811.0 314.2,1811.0 314.2,1844.3 319.0,1844.3 319.0,1841.8 321.7,1841.8 321.7,1824.9 324.1,1824.9 324.1,1805.9 326.6,1805.9 326.6,1767.8 329.0,1767.8 329.0,1767.8 333.8,1767.8 333.8,1767.8 335.9,1767.8 335.9,1796.5 338.3,1796.5 338.3,1824.9 340.8,1824.9 340.8,1837.0 348.0,1837.0 348.0,1840.0 350.4,1840.0 350.4,1823.1 352.8,1823.1 352.8,1798.9 355.3,1798.9 355.3,1782.0 357.7,1782.0 357.7,1758.2 360.1,1758.2 360.1,1758.2 364.9,1758.2 364.9,1758.4 366.9,1758.4 366.9,1770.3 372.0,1770.3 372.0,1770.3 374.3,1770.3 374.3,1787.0 376.9,1787.0 376.9,1787.0 382.0,1787.0 382.0,1788.8 384.3,1788.8 384.3,1751.0 386.5,1751.0 386.5,1751.0 389.1,1751.0 389.1,1739.1 393.9,1739.1 393.9,1739.1 395.8,1739.1 395.8,1772.5 398.4,1772.5 398.4,1794.0 401.0,1794.0 401.0,1756.2 402.8,1756.2 402.8,1756.2 408.0,1756.2 408.0,1794.0 410.2,1794.0 410.2,1801.4 412.4,1801.4 412.4,1803.6 417.6,1803.6 417.6,1806.6 422.1,1806.6 422.1,1815.9 425.0,1815.9 425.0,1815.9 429.5,1815.9 429.5,1830.3 434.3,1830.3 434.3,1844.4 445.0,1844.4 445.0,1853.3 434.3,1853.3 434.3,1853.3 429.5,1853.3 429.5,1851.1 425.0,1851.1 425.0,1843.7 422.1,1843.7 422.1,1843.7 417.6,1843.7 417.6,1846.7 412.4,1846.7 412.4,1846.7 410.2,1846.7 410.2,1841.5 408.0,1841.5 408.0,1841.5 402.8,1841.5 402.8,1843.7 401.0,1843.7 401.0,1846.7 398.4,1846.7 398.4,1846.7 395.8,1846.7 395.8,1846.7 393.9,1846.7 393.9,1831.8 389.1,1831.8 389.1,1831.8 386.5,1831.8 386.5,1822.9 384.3,1822.9 384.3,1822.9 382.0,1822.9 382.0,1827.4 376.9,1827.4 376.9,1834.8 374.3,1834.8 374.3,1834.8 372.0,1834.8 372.0,1841.5 366.9,1841.5 366.9,1841.5 364.9,1841.5 364.9,1824.9 360.1,1824.9 360.1,1839.4 357.7,1839.4 357.7,1841.8 355.3,1841.8 355.3,1846.7 352.8,1846.7 352.8,1849.1 350.4,1849.1 350.4,1851.5 348.0,1851.5 348.0,1851.5 340.8,1851.5 340.8,1851.5 338.3,1851.5 338.3,1849.1 335.9,1849.1 335.9,1849.1 333.8,1849.1 333.8,1844.3 329.0,1844.3 329.0,1846.7 326.6,1846.7 326.6,1849.1 324.1,1849.1 324.1,1851.5 321.7,1851.5 321.7,1851.5 319.0,1851.5 319.0,1851.5 314.2,1851.5 314.2,1851.5 311.8,1851.5 311.8,1851.5 309.3,1851.5 309.3,1851.5 306.9,1851.5 306.9,1849.1 302.4,1849.1 302.4,1849.1 300.3,1849.1 300.3,1851.5 297.9,1851.5 297.9,1851.5 293.0,1851.5 293.0,1851.5 288.0,1851.5" fill="#0000ff" stroke="none"/>
<polygon points="540.7,1849.0 540.7,1824.5 543.0,1824.5 543.0,1787.6 547.8,1787.6 547.8,1800.0 549.3,1800.0 549.3,1849.0" fill="#0000ff" stroke="#0000ff" stroke-width="6.0" stroke-linejoin="round"/>
<polygon points="641.0,1849.0 641.0,1828.0 643.8,1828.0 643.8,1809.0 648.5,1809.0 648.5,1849.0" fill="#0000ff" stroke="#0000ff" stroke-width="6.0" stroke-linejoin="round"/>
<polygon points="670.7,1849.0 670.7,1843.0 673.0,1843.0 673.0,1763.8 677.0,1763.8 677.0,1823.8 680.0,1823.8 680.0,1849.0" fill="#0000ff" stroke="#0000ff" stroke-width="6.0" stroke-linejoin="round"/>
<polyline points="115.4,1848.0 289.0,1848.0" fill="none" stroke="#0000ff" stroke-width="7.5" stroke-linejoin="round" stroke-linecap="butt"/>
<polyline points="444.0,1849.5 530.0,1848.7 530.3,1848.7 531.2,1848.7 532.0,1848.6 532.9,1848.5 533.7,1848.5 534.5,1848.4 535.3,1848.4 536.0,1848.3 536.8,1848.2 537.5,1848.1 538.2,1848.1 538.9,1848.0 539.6,1847.9 540.3,1847.8 541.0,1847.7 541.6,1847.6 542.2,1847.5 542.9,1847.4 543.5,1847.3 544.1,1847.2 544.7,1847.1 545.2,1847.0 545.8,1846.8 546.4,1846.7 546.9,1846.6 547.4,1846.4 547.9,1846.3 548.5,1846.1 549.0,1846.0 549.4,1845.8 549.9,1845.6 550.4,1845.4 550.9,1845.2 551.3,1845.0 551.7,1844.8 552.2,1844.6 552.6,1844.4 553.0,1844.2 553.4,1843.9 553.8,1843.7 554.2,1843.4 554.6,1843.1 555.0,1842.8 555.3,1842.5 555.7,1842.2 556.1,1841.9 556.4,1841.6 556.8,1841.2 557.1,1840.9 557.4,1840.5 557.7,1840.1 558.0,1839.7 558.4,1839.2 558.7,1838.8 559.0,1838.3 559.2,1837.8 559.5,1837.3 559.8,1836.8 560.1,1836.2 560.3,1835.7 560.6,1835.1 560.9,1834.5 561.1,1833.8 561.4,1833.1 561.6,1832.4 561.8,1831.7 562.1,1830.9 562.3,1830.1 562.5,1829.3 562.7,1828.4 563.0,1827.5 563.2,1826.6 563.4,1825.6 563.6,1824.6 563.8,1823.6 564.0,1822.5 564.2,1821.3 564.4,1820.1 564.5,1818.9 564.7,1817.6 564.9,1816.2 565.1,1814.8 565.2,1813.4 565.4,1811.8 565.6,1810.2 565.7,1808.6 565.9,1806.9 566.0,1805.1 566.2,1803.2 566.3,1801.2 566.5,1799.2 566.6,1797.1 566.8,1794.9 566.9,1792.6 567.1,1790.2 567.2,1787.7 567.3,1785.1 567.4,1782.4 567.6,1779.6 567.7,1776.7 567.8,1773.6 567.9,1770.4 568.1,1767.1 568.2,1763.6 568.3,1760.0 568.4,1756.3 568.5,1752.4 568.6,1748.3 568.7,1744.1 568.8,1739.7 568.9,1735.1 569.0,1730.3 569.1,1725.3 569.2,1720.1 569.3,1714.7 569.4,1709.1 569.5,1703.2 569.6,1697.1 569.7,1690.7 569.8,1684.1 569.9,1677.1 570.0,1669.9 570.1,1662.4 570.2,1654.6 570.3,1646.5 570.3,1638.0 570.4,1629.2 570.5,1620.0 570.6,1610.4 570.7,1600.4 570.8,1590.0 570.8,1579.2 570.9,1567.9 571.0,1556.1 571.0,1543.9 571.0,1531.1 571.0,1517.8 571.0,1504.0 571.0,1489.6 571.0,1474.6 571.0,1458.9 571.0,1442.6 571.0,1425.6 571.0,1408.0 571.0,1389.5 571.0,1370.4 571.0,1350.4 571.0,1329.6 571.0,1307.9 571.0,1285.3 571.0,1261.8 575.0,1261.8 575.0,1285.2 575.0,1307.7 575.0,1329.3 575.0,1350.1 575.0,1370.0 575.0,1389.1 575.0,1407.5 575.0,1425.1 575.0,1442.0 575.0,1458.2 575.0,1473.8 575.0,1488.8 575.1,1503.2 575.2,1517.0 575.3,1530.2 575.4,1542.9 575.5,1555.1 575.6,1566.8 575.7,1578.1 575.8,1588.9 575.9,1599.2 576.0,1609.2 576.1,1618.7 576.2,1627.9 576.3,1636.7 576.4,1645.2 576.5,1653.3 576.7,1661.1 576.8,1668.5 576.9,1675.7 577.0,1682.6 577.1,1689.2 577.2,1695.6 577.3,1701.7 577.5,1707.5 577.6,1713.2 577.7,1718.5 577.8,1723.7 577.9,1728.7 578.1,1733.5 578.2,1738.0 578.3,1742.4 578.5,1746.7 578.6,1750.7 578.7,1754.6 578.9,1758.3 579.0,1761.9 579.2,1765.4 579.3,1768.7 579.5,1771.9 579.6,1774.9 579.8,1777.8 579.9,1780.6 580.1,1783.3 580.3,1785.9 580.4,1788.4 580.6,1790.8 580.8,1793.1 581.0,1795.3 581.1,1797.4 581.3,1799.4 581.5,1801.3 581.7,1803.2 581.9,1805.0 582.1,1806.7 582.3,1808.4 582.5,1810.0 582.7,1811.5 582.9,1812.9 583.1,1814.3 583.4,1815.7 583.6,1817.0 583.8,1818.2 584.0,1819.4 584.3,1820.6 584.5,1821.7 584.8,1822.7 585.0,1823.7 585.3,1824.7 585.5,1825.6 585.8,1826.5 586.1,1827.4 586.4,1828.2 586.7,1829.0 586.9,1829.8 587.2,1830.5 587.5,1831.2 587.9,1831.9 588.2,1832.5 588.5,1833.1 588.8,1833.7 589.2,1834.3 589.5,1834.8 589.8,1835.4 590.2,1835.9 590.6,1836.4 590.9,1836.8 591.3,1837.3 591.7,1837.7 592.1,1838.1 592.5,1838.5 592.9,1838.9 593.3,1839.2 593.7,1839.6 594.2,1839.9 594.6,1840.3 595.1,1840.6 595.5,1840.9 596.0,1841.2 596.5,1841.4 597.0,1841.7 597.5,1841.9 598.0,1842.2 598.5,1842.4 599.0,1842.6 599.6,1842.9 600.1,1843.1 600.7,1843.3 601.3,1843.4 601.8,1843.6 602.4,1843.8 603.1,1844.0 603.7,1844.1 604.3,1844.3 605.0,1844.4 605.6,1844.6 606.3,1844.7 607.0,1844.8 607.7,1845.0 608.4,1845.1 609.2,1845.2 609.9,1845.3 610.7,1845.4 611.4,1845.5 612.2,1845.6 613.1,1845.7 613.9,1845.8 614.7,1845.9 615.6,1846.0 616.5,1846.1 617.4,1846.1 618.3,1846.2 619.2,1846.3 620.2,1846.4 621.2,1846.4 622.2,1846.5 623.2,1846.5 624.2,1846.6 625.3,1846.7 626.3,1846.7 627.5,1846.8 628.6,1846.8 629.7,1846.9 630.9,1846.9 632.1,1847.0 633.3,1847.0 634.6,1847.0 635.8,1847.1 637.1,1847.1 638.5,1847.1 639.8,1847.2 641.2,1847.2 642.6,1847.2 644.0,1847.3 645.5,1847.3 647.0,1847.3 648.5,1847.4 650.0,1847.4 1012.6,1848.0" fill="none" stroke="#0000ff" stroke-width="7.5" stroke-linejoin="round" stroke-linecap="butt"/>
<polygon points="283.0,1645.4 290.2,1645.4 290.2,1643.1 293.1,1643.1 293.1,1625.8 295.4,1625.8 295.4,1623.5 297.7,1623.5 297.7,1603.9 300.0,1603.9 300.0,1602.1 302.3,1602.1 302.3,1602.1 304.6,1602.1 304.6,1603.9 306.9,1603.9 306.9,1621.2 309.2,1621.2 309.2,1623.5 311.8,1623.5 311.8,1645.4 317.0,1645.4 317.0,1621.2 319.6,1621.2 319.6,1616.0 321.9,1616.0 321.9,1587.1 324.2,1587.1 324.2,1585.4 326.5,1585.4 326.5,1585.4 329.4,1585.4 329.4,1585.4 330.6,1585.4 330.6,1604.4 333.4,1604.4 333.4,1611.9 335.7,1611.9 335.7,1637.9 337.5,1637.9 337.5,1640.2 345.6,1640.2 345.6,1621.2 348.4,1621.2 348.4,1596.9 350.7,1596.9 350.7,1580.2 353.0,1580.2 353.0,1567.5 354.8,1567.5 354.8,1567.5 357.7,1567.5 357.7,1568.7 360.6,1568.7 360.6,1568.1 362.3,1568.1 362.3,1575.8 365.4,1575.8 365.4,1588.1 370.0,1588.1 370.0,1590.4 374.6,1590.4 374.6,1586.5 376.9,1586.5 376.9,1580.4 379.2,1580.4 379.2,1558.8 383.8,1558.8 383.8,1541.9 386.2,1541.9 386.2,1539.6 389.2,1539.6 389.2,1541.9 393.8,1541.9 393.8,1575.8 396.2,1575.8 396.2,1565.8 398.5,1565.8 398.5,1563.8 403.1,1563.8 403.1,1565.8 405.4,1565.8 405.4,1601.2 407.7,1601.2 407.7,1599.6 409.6,1599.6 409.6,1602.7 413.8,1602.7 413.8,1606.5 419.2,1606.5 419.2,1628.1 425.4,1628.1 425.4,1638.8 431.5,1638.8 431.5,1645.8 440.0,1645.8 440.0,1655.0 431.5,1655.0 431.5,1654.2 425.4,1654.2 425.4,1649.6 419.2,1649.6 419.2,1644.2 413.8,1644.2 413.8,1644.2 409.6,1644.2 409.6,1644.2 407.7,1644.2 407.7,1644.2 405.4,1644.2 405.4,1638.8 403.1,1638.8 403.1,1638.8 398.5,1638.8 398.5,1643.5 396.2,1643.5 396.2,1643.5 393.8,1643.5 393.8,1642.7 389.2,1642.7 389.2,1622.7 386.2,1622.7 386.2,1615.8 383.8,1615.8 383.8,1615.8 379.2,1615.8 379.2,1617.3 376.9,1617.3 376.9,1617.3 374.6,1617.3 374.6,1622.0 370.0,1622.0 370.0,1635.8 365.4,1635.8 365.4,1637.3 362.3,1637.3 362.3,1637.3 360.6,1637.3 360.6,1632.1 357.7,1632.1 357.7,1627.5 354.8,1627.5 354.8,1641.9 353.0,1641.9 353.0,1641.9 350.7,1641.9 350.7,1641.9 348.4,1641.9 348.4,1648.9 345.6,1648.9 345.6,1651.7 337.5,1651.7 337.5,1651.2 335.7,1651.2 335.7,1651.2 333.4,1651.2 333.4,1650.0 330.6,1650.0 330.6,1647.7 329.4,1647.7 329.4,1642.5 326.5,1642.5 326.5,1645.4 324.2,1645.4 324.2,1647.7 321.9,1647.7 321.9,1650.0 319.6,1650.0 319.6,1652.3 317.0,1652.3 317.0,1654.6 311.8,1654.6 311.8,1654.6 309.2,1654.6 309.2,1654.6 306.9,1654.6 306.9,1653.5 304.6,1653.5 304.6,1649.4 302.3,1649.4 302.3,1644.8 300.0,1644.8 300.0,1650.0 297.7,1650.0 297.7,1650.0 295.4,1650.0 295.4,1651.7 293.1,1651.7 293.1,1653.5 290.2,1653.5 290.2,1654.6 283.0,1654.6" fill="#ff0000" stroke="none"/>
<polygon points="538.0,1652.0 538.0,1602.0 545.0,1602.0 545.0,1628.7 548.0,1628.7 548.0,1652.0" fill="#ff0000" stroke="#ff0000" stroke-width="6.0" stroke-linejoin="round"/>
<polygon points="637.0,1652.0 637.0,1637.0 640.0,1637.0 640.0,1628.0 642.0,1628.0 642.0,1624.3 642.0,1624.3 642.0,1628.0 643.5,1628.0 643.5,1639.0 646.0,1639.0 646.0,1652.0" fill="#ff0000" stroke="#ff0000" stroke-width="6.0" stroke-linejoin="round"/>
<polygon points="665.0,1652.0 665.0,1630.0 669.0,1630.0 669.0,1573.9 673.0,1573.9 673.0,1630.0 676.0,1630.0 676.0,1652.0" fill="#ff0000" stroke="#ff0000" stroke-width="6.0" stroke-linejoin="round"/>
<polygon points="740.5,1652.0 740.5,1639.0 744.0,1639.0 744.0,1632.0 746.0,1632.0 746.0,1629.3 746.0,1629.3 746.0,1633.0 747.5,1633.0 747.5,1643.0 750.6,1643.0 750.6,1652.0" fill="#ff0000" stroke="#ff0000" stroke-width="6.0" stroke-linejoin="round"/>
<polygon points="807.4,1652.0 807.4,1641.8 815.4,1641.8 815.4,1622.2 820.0,1622.2 820.0,1634.7 828.0,1634.7 828.0,1645.4 835.2,1645.4 835.2,1652.0" fill="#ff0000" stroke="#ff0000" stroke-width="6.0" stroke-linejoin="round"/>
<polyline points="115.4,1650.0 284.0,1650.0" fill="none" stroke="#ff0000" stroke-width="8.5" stroke-linejoin="round" stroke-linecap="butt"/>
<polyline points="439.0,1650.5 540.0,1646.8 540.5,1646.7 541.2,1646.6 541.8,1646.4 542.5,1646.3 543.1,1646.1 543.7,1645.9 544.3,1645.8 544.9,1645.6 545.5,1645.4 546.0,1645.2 546.6,1645.0 547.1,1644.8 547.6,1644.6 548.2,1644.4 548.7,1644.1 549.2,1643.9 549.7,1643.6 550.1,1643.4 550.6,1643.1 551.1,1642.8 551.5,1642.5 552.0,1642.2 552.4,1641.9 552.8,1641.5 553.2,1641.2 553.6,1640.8 554.0,1640.4 554.4,1640.0 554.8,1639.6 555.2,1639.2 555.6,1638.7 555.9,1638.3 556.3,1637.8 556.6,1637.3 557.0,1636.7 557.3,1636.2 557.6,1635.6 557.9,1635.0 558.2,1634.4 558.6,1633.7 558.9,1633.1 559.2,1632.4 559.4,1631.6 559.7,1630.9 560.0,1630.1 560.3,1629.2 560.6,1628.4 560.8,1627.5 561.1,1626.5 561.3,1625.6 561.6,1624.5 561.8,1623.5 562.1,1622.4 562.3,1621.2 562.5,1620.0 562.8,1618.8 563.0,1617.5 563.2,1616.1 563.4,1614.7 563.6,1613.2 563.8,1611.7 564.0,1610.1 564.2,1608.4 564.4,1606.7 564.6,1604.9 564.8,1603.0 565.0,1601.1 565.2,1599.0 565.3,1596.9 565.5,1594.7 565.7,1592.4 565.8,1590.0 566.0,1587.5 566.2,1584.9 566.3,1582.2 566.5,1579.3 566.6,1576.4 566.8,1573.3 566.9,1570.1 567.1,1566.8 567.2,1563.3 567.4,1559.7 567.5,1556.0 567.7,1552.0 567.8,1548.0 567.9,1543.7 568.1,1539.3 568.2,1534.7 568.3,1529.9 568.4,1524.9 568.6,1519.6 568.7,1514.2 568.8,1508.6 568.9,1502.7 569.1,1496.5 569.2,1490.1 569.3,1483.5 569.4,1476.5 569.5,1469.3 569.6,1461.8 569.7,1453.9 569.9,1445.8 570.0,1437.2 570.1,1428.4 570.2,1419.1 570.3,1409.5 570.4,1399.5 570.5,1389.1 570.6,1378.2 570.7,1366.9 570.9,1355.1 571.0,1342.8 571.1,1330.0 571.2,1316.6 571.2,1302.8 571.2,1288.3 571.2,1273.2 571.2,1257.5 571.2,1241.2 571.2,1224.1 571.2,1206.4 571.2,1187.9 571.2,1168.7 574.8,1168.7 574.8,1187.8 574.8,1206.2 574.8,1223.8 574.8,1240.7 574.8,1257.0 574.8,1272.6 574.8,1287.5 574.8,1301.9 574.8,1315.7 574.9,1329.0 575.0,1341.7 575.1,1353.9 575.3,1365.6 575.4,1376.9 575.5,1387.7 575.6,1398.1 575.7,1408.0 575.8,1417.6 575.9,1426.8 576.0,1435.6 576.1,1444.0 576.3,1452.1 576.4,1459.9 576.5,1467.4 576.6,1474.6 576.7,1481.5 576.8,1488.1 576.9,1494.5 577.1,1500.6 577.2,1506.4 577.3,1512.1 577.4,1517.5 577.6,1522.6 577.7,1527.6 577.8,1532.4 577.9,1537.0 578.1,1541.4 578.2,1545.6 578.3,1549.7 578.5,1553.5 578.6,1557.3 578.8,1560.9 578.9,1564.3 579.1,1567.6 579.2,1570.8 579.4,1573.8 579.5,1576.8 579.7,1579.6 579.8,1582.3 580.0,1584.9 580.2,1587.4 580.3,1589.7 580.5,1592.0 580.7,1594.2 580.8,1596.3 581.0,1598.4 581.2,1600.3 581.4,1602.2 581.6,1604.0 581.8,1605.7 582.0,1607.3 582.2,1608.9 582.4,1610.5 582.6,1611.9 582.8,1613.3 583.0,1614.7 583.2,1616.0 583.5,1617.2 583.7,1618.4 583.9,1619.5 584.2,1620.6 584.4,1621.7 584.7,1622.7 584.9,1623.7 585.2,1624.6 585.4,1625.5 585.7,1626.4 586.0,1627.2 586.3,1628.0 586.6,1628.7 586.8,1629.5 587.1,1630.2 587.4,1630.8 587.8,1631.5 588.1,1632.1 588.4,1632.7 588.7,1633.3 589.0,1633.8 589.4,1634.4 589.7,1634.9 590.1,1635.3 590.4,1635.8 590.8,1636.3 591.2,1636.7 591.6,1637.1 592.0,1637.5 592.4,1637.9 592.8,1638.2 593.2,1638.6 593.6,1638.9 594.0,1639.3 594.5,1639.6 594.9,1639.9 595.4,1640.1 595.9,1640.4 596.3,1640.7 596.8,1640.9 597.3,1641.2 597.8,1641.4 598.4,1641.6 598.9,1641.8 599.4,1642.1 600.0,1642.3 600.5,1642.4 601.1,1642.6 601.7,1642.8 602.3,1643.0 602.9,1643.1 603.5,1643.3 604.2,1643.4 604.8,1643.6 605.5,1643.7 606.1,1643.8 606.8,1644.0 607.5,1644.1 608.2,1644.2 609.0,1644.3 609.7,1644.4 610.5,1644.5 611.3,1644.6 612.0,1644.7 612.9,1644.8 613.7,1644.9 614.5,1645.0 615.4,1645.1 616.3,1645.1 617.2,1645.2 618.1,1645.3 619.0,1645.4 620.0,1645.4 620.9,1645.5 621.9,1645.5 622.9,1645.6 624.0,1645.7 625.0,1645.7 626.1,1645.8 627.2,1645.8 628.3,1645.9 629.4,1645.9 630.6,1646.0 631.8,1646.0 633.0,1646.0 634.3,1646.1 635.5,1646.1 636.8,1646.1 638.1,1646.2 639.5,1646.2 640.9,1646.2 642.3,1646.3 643.7,1646.3 645.1,1646.3 646.6,1646.4 648.2,1646.4 649.7,1646.4 651.3,1646.4 652.9,1646.5 654.6,1646.5 656.2,1646.5 658.0,1646.5 659.7,1646.5 661.5,1646.6 663.3,1646.6 665.2,1646.6 667.1,1646.6 669.0,1646.6 671.0,1646.6 673.0,1646.7 675.1,1646.7 677.2,1646.7 679.4,1646.7 681.6,1646.7 683.8,1646.7 686.1,1646.7 688.4,1646.7 690.8,1646.7 719.0,1646.8 721.0,1649.0 1015.5,1650.0" fill="none" stroke="#ff0000" stroke-width="8.5" stroke-linejoin="round" stroke-linecap="butt"/>
<polygon points="567.5,1164.4 579.4,1164.4 580.0,1400.0 582.0,1554.0 583.0,1585.0 564.0,1585.0 566.0,1554.0 566.5,1400.0" fill="#ff0000" stroke="none"/>
<polygon points="742.8,1947.0 742.8,1928.0 749.0,1928.0 749.0,1947.0" fill="#000000" stroke="#000000" stroke-width="6.0" stroke-linejoin="round"/>
<polygon points="811.0,1947.0 811.0,1935.9 818.0,1935.9 818.0,1917.6 825.6,1917.6 825.6,1940.4 834.7,1940.4 834.7,1947.0" fill="#000000" stroke="#000000" stroke-width="6.0" stroke-linejoin="round"/>
<polyline points="115.0,1946.3 563.0,1946.3 567.0,1943.0 570.3,1935.0 570.5,1266.0 575.5,1266.0 575.8,1935.0 580.0,1941.0 589.5,1944.0 592.0,1946.3 1006.2,1946.3" fill="none" stroke="#000000" stroke-width="7.0" stroke-linejoin="round" stroke-linecap="butt"/>
<polygon points="1593.0,1826.1 1601.1,1826.1 1601.1,1799.2 1606.4,1799.2 1606.4,1765.5 1613.2,1765.5 1613.2,1791.1 1622.6,1791.1 1622.6,1785.1 1632.0,1785.1 1632.0,1823.4 1634.0,1823.4 1634.0,1805.9 1638.1,1805.9 1638.1,1623.6 1648.8,1623.6 1648.8,1779.0 1654.2,1779.0 1654.2,1760.2 1658.0,1760.2 1658.0,1760.2 1661.6,1760.2 1661.6,1717.1 1664.3,1717.1 1664.3,1613.5 1671.7,1613.5 1671.7,1636.3 1673.7,1636.3 1673.7,1799.2 1684.5,1799.2 1684.5,1816.7 1687.9,1816.7 1687.9,1830.1 1696.0,1830.1 1696.0,1840.9 1687.9,1840.9 1687.9,1836.9 1684.5,1836.9 1684.5,1834.2 1673.7,1834.2 1673.7,1828.8 1671.7,1828.8 1671.7,1822.1 1664.3,1822.1 1664.3,1822.1 1661.6,1822.1 1661.6,1822.1 1658.0,1822.1 1658.0,1834.2 1654.2,1834.2 1654.2,1834.2 1648.8,1834.2 1648.8,1834.2 1638.1,1834.2 1638.1,1834.2 1634.0,1834.2 1634.0,1834.2 1632.0,1834.2 1632.0,1834.2 1622.6,1834.2 1622.6,1834.2 1613.2,1834.2 1613.2,1834.2 1606.4,1834.2 1606.4,1834.2 1601.1,1834.2 1601.1,1836.5 1593.0,1836.5" fill="#0000ff" stroke="none"/>
<polygon points="1701.0,1834.0 1701.0,1806.0 1705.6,1806.0 1705.6,1760.7 1706.7,1760.7 1706.7,1794.6 1711.0,1794.6 1711.0,1834.0" fill="#0000ff" stroke="#0000ff" stroke-width="6.0" stroke-linejoin="round"/>
<polygon points="1731.4,1834.0 1731.4,1739.3 1733.4,1739.3 1733.4,1760.9 1737.7,1760.9 1737.7,1834.0" fill="#0000ff" stroke="#0000ff" stroke-width="6.0" stroke-linejoin="round"/>
<polygon points="1930.9,1834.0 1930.9,1754.4 1934.9,1754.4 1934.9,1824.4 1938.5,1824.4 1938.5,1834.0" fill="#0000ff" stroke="#0000ff" stroke-width="6.0" stroke-linejoin="round"/>
<polyline points="1393.9,1833.5 1459.0,1833.5 1460.0,1831.5 1594.0,1831.5" fill="none" stroke="#0000ff" stroke-width="7.5" stroke-linejoin="round" stroke-linecap="butt"/>
<polyline points="1695.0,1836.5 1760.0,1837.0 1780.0,1836.5 1780.2,1836.5 1781.3,1836.5 1782.3,1836.4 1783.3,1836.4 1784.3,1836.4 1785.3,1836.4 1786.3,1836.3 1787.2,1836.3 1788.1,1836.3 1789.0,1836.3 1789.9,1836.2 1790.7,1836.2 1791.6,1836.2 1792.4,1836.1 1793.2,1836.1 1794.0,1836.1 1794.8,1836.0 1795.6,1836.0 1796.3,1835.9 1797.0,1835.9 1797.8,1835.8 1798.5,1835.8 1799.2,1835.7 1799.8,1835.7 1800.5,1835.6 1801.1,1835.6 1801.8,1835.5 1802.4,1835.5 1803.0,1835.4 1803.6,1835.3 1804.2,1835.3 1804.8,1835.2 1805.3,1835.1 1805.9,1835.0 1806.4,1834.9 1806.9,1834.9 1807.5,1834.8 1808.0,1834.7 1808.5,1834.6 1809.0,1834.5 1809.4,1834.4 1809.9,1834.3 1810.4,1834.2 1810.8,1834.0 1811.2,1833.9 1811.7,1833.8 1812.1,1833.6 1812.5,1833.5 1812.9,1833.4 1813.3,1833.2 1813.7,1833.1 1814.1,1832.9 1814.5,1832.7 1814.8,1832.5 1815.2,1832.4 1815.5,1832.2 1815.9,1832.0 1816.2,1831.7 1816.6,1831.5 1816.9,1831.3 1817.2,1831.1 1817.5,1830.8 1817.8,1830.6 1818.1,1830.3 1818.4,1830.0 1818.7,1829.7 1819.0,1829.4 1819.3,1829.1 1819.5,1828.8 1819.8,1828.4 1820.1,1828.1 1820.3,1827.7 1820.6,1827.3 1820.8,1826.9 1821.0,1826.5 1821.3,1826.0 1821.5,1825.6 1821.7,1825.1 1822.0,1824.6 1822.2,1824.1 1822.4,1823.6 1822.6,1823.0 1822.8,1822.4 1823.0,1821.8 1823.2,1821.2 1823.4,1820.5 1823.6,1819.8 1823.8,1819.1 1824.0,1818.4 1824.1,1817.6 1824.3,1816.8 1824.5,1816.0 1824.6,1815.1 1824.8,1814.2 1825.0,1813.2 1825.1,1812.2 1825.3,1811.2 1825.4,1810.1 1825.6,1809.0 1825.7,1807.8 1825.9,1806.6 1826.0,1805.3 1826.2,1804.0 1826.3,1802.7 1826.4,1801.2 1826.6,1799.7 1826.7,1798.2 1826.8,1796.6 1826.9,1794.9 1827.0,1793.1 1827.2,1791.3 1827.3,1789.4 1827.4,1787.4 1827.5,1785.3 1827.6,1783.2 1827.7,1780.9 1827.8,1778.6 1827.9,1776.2 1828.0,1773.6 1828.1,1771.0 1828.2,1768.2 1828.3,1765.4 1828.4,1762.4 1828.5,1759.3 1828.6,1756.0 1828.7,1752.7 1828.8,1749.2 1828.9,1745.5 1829.0,1741.7 1829.1,1737.7 1829.1,1733.6 1829.2,1729.3 1829.3,1724.8 1829.4,1720.1 1829.5,1715.2 1829.5,1710.2 1829.6,1704.9 1829.7,1699.4 1829.8,1693.6 1829.8,1687.7 1829.9,1681.4 1830.0,1675.0 1830.0,1668.2 1830.1,1661.2 1830.2,1653.9 1830.2,1646.2 1830.3,1638.3 1830.4,1630.0 1830.4,1621.4 1830.5,1612.4 1830.6,1603.0 1830.6,1593.3 1830.7,1583.1 1830.8,1572.5 1830.8,1561.5 1830.9,1550.0 1830.9,1538.1 1831.0,1525.6 1831.1,1512.7 1831.1,1499.1 1831.2,1485.1 1831.2,1470.4 1831.3,1455.1 1831.4,1439.2 1831.4,1422.6 1831.5,1405.4 1831.6,1387.4 1831.6,1368.7 1831.7,1349.1 1831.8,1328.8 1831.8,1307.6 1831.8,1285.6 1831.8,1262.6 1831.8,1238.7 1831.8,1213.8 1833.2,1213.8 1833.2,1238.5 1833.2,1262.3 1833.2,1285.2 1833.3,1307.1 1833.4,1328.2 1833.4,1348.4 1833.5,1367.8 1833.6,1386.4 1833.7,1404.3 1833.8,1421.5 1833.9,1438.0 1833.9,1453.8 1834.0,1469.0 1834.1,1483.5 1834.2,1497.5 1834.2,1511.0 1834.3,1523.9 1834.4,1536.3 1834.4,1548.2 1834.5,1559.6 1834.6,1570.5 1834.7,1581.0 1834.7,1591.1 1834.8,1600.8 1834.9,1610.1 1835.0,1619.1 1835.1,1627.7 1835.1,1635.9 1835.2,1643.8 1835.3,1651.4 1835.4,1658.7 1835.5,1665.7 1835.5,1672.4 1835.6,1678.8 1835.7,1685.0 1835.8,1690.9 1835.9,1696.6 1836.0,1702.1 1836.1,1707.4 1836.2,1712.4 1836.2,1717.3 1836.3,1721.9 1836.4,1726.4 1836.5,1730.7 1836.6,1734.8 1836.7,1738.7 1836.8,1742.5 1836.9,1746.2 1837.1,1749.6 1837.2,1753.0 1837.3,1756.2 1837.4,1759.3 1837.5,1762.3 1837.6,1765.1 1837.7,1767.9 1837.9,1770.5 1838.0,1773.0 1838.1,1775.4 1838.2,1777.8 1838.4,1780.0 1838.5,1782.1 1838.6,1784.2 1838.8,1786.2 1838.9,1788.0 1839.0,1789.9 1839.2,1791.6 1839.3,1793.3 1839.5,1794.9 1839.6,1796.4 1839.8,1797.9 1840.0,1799.3 1840.1,1800.7 1840.3,1802.0 1840.5,1803.3 1840.6,1804.5 1840.8,1805.6 1841.0,1806.8 1841.2,1807.8 1841.3,1808.9 1841.5,1809.8 1841.7,1810.8 1841.9,1811.7 1842.1,1812.6 1842.3,1813.4 1842.5,1814.2 1842.8,1815.0 1843.0,1815.7 1843.2,1816.4 1843.4,1817.1 1843.7,1817.8 1843.9,1818.4 1844.1,1819.0 1844.4,1819.6 1844.6,1820.1 1844.9,1820.7 1845.1,1821.2 1845.4,1821.7 1845.7,1822.2 1846.0,1822.6 1846.2,1823.0 1846.5,1823.5 1846.8,1823.9 1847.1,1824.2 1847.4,1824.6 1847.7,1825.0 1848.1,1825.3 1848.4,1825.6 1848.7,1826.0 1849.1,1826.3 1849.4,1826.5 1849.8,1826.8 1850.1,1827.1 1850.5,1827.4 1850.9,1827.6 1851.2,1827.8 1851.6,1828.1 1852.0,1828.3 1852.4,1828.5 1852.8,1828.7 1853.3,1828.9 1853.7,1829.1 1854.1,1829.2 1854.6,1829.4 1855.0,1829.6 1855.5,1829.7 1856.0,1829.9 1856.5,1830.0 1857.0,1830.2 1857.5,1830.3 1858.0,1830.4 1858.5,1830.6 1859.1,1830.7 1859.6,1830.8 1860.2,1830.9 1860.8,1831.0 1861.3,1831.1 1861.9,1831.2 1862.5,1831.3 1863.2,1831.4 1863.8,1831.5 1864.4,1831.5 1865.1,1831.6 1865.8,1831.7 1866.5,1831.8 1867.2,1831.8 1867.9,1831.9 1868.6,1832.0 1869.4,1832.0 1870.1,1832.1 1870.9,1832.1 1871.7,1832.2 1872.5,1832.2 1873.3,1832.3 1874.2,1832.3 1875.0,1832.4 1875.9,1832.4 1876.8,1832.5 1877.7,1832.5 1878.7,1832.6 1879.6,1832.6 1880.6,1832.6 1881.6,1832.7 1882.6,1832.7 1883.6,1832.7 1884.7,1832.8 1885.8,1832.8 1886.9,1832.8 1888.0,1832.8 1889.1,1832.9 1890.3,1832.9 1891.5,1832.9 1892.7,1832.9 1894.0,1833.0 1895.2,1833.0 1896.5,1833.0 1897.8,1833.0 1899.2,1833.0 1900.0,1833.1 2255.5,1833.5" fill="none" stroke="#0000ff" stroke-width="7.5" stroke-linejoin="round" stroke-linecap="butt"/>
<polygon points="1584.0,1614.2 1592.9,1614.2 1592.9,1601.8 1596.3,1601.8 1596.3,1591.7 1599.6,1591.7 1599.6,1583.8 1603.6,1583.8 1603.6,1583.8 1608.6,1583.8 1608.6,1596.2 1613.2,1596.2 1613.2,1587.7 1618.8,1587.7 1618.8,1587.7 1623.3,1587.7 1623.3,1605.2 1627.8,1605.2 1627.8,1529.7 1631.7,1529.7 1631.7,1507.2 1633.5,1507.2 1633.5,1507.2 1637.9,1507.2 1637.9,1510.6 1642.4,1510.6 1642.4,1590.5 1646.9,1590.5 1646.9,1582.7 1652.6,1582.7 1652.6,1465.0 1656.0,1465.0 1656.0,1436.3 1659.4,1436.3 1659.4,1436.3 1663.8,1436.3 1663.8,1436.3 1666.1,1436.3 1666.1,1523.0 1668.9,1523.0 1668.9,1587.7 1672.8,1587.7 1672.8,1587.7 1675.1,1587.7 1675.1,1590.5 1679.6,1590.5 1679.6,1609.7 1686.0,1609.7 1686.0,1623.2 1679.6,1623.2 1679.6,1621.0 1675.1,1621.0 1675.1,1621.0 1672.8,1621.0 1672.8,1607.4 1668.9,1607.4 1668.9,1606.3 1666.1,1606.3 1666.1,1604.0 1663.8,1604.0 1663.8,1597.3 1659.4,1597.3 1659.4,1604.0 1656.0,1604.0 1656.0,1609.7 1652.6,1609.7 1652.6,1611.9 1646.9,1611.9 1646.9,1621.0 1642.4,1621.0 1642.4,1621.0 1637.9,1621.0 1637.9,1616.4 1633.5,1616.4 1633.5,1621.0 1631.7,1621.0 1631.7,1621.0 1627.8,1621.0 1627.8,1623.2 1623.3,1623.2 1623.3,1621.0 1618.8,1621.0 1618.8,1618.7 1613.2,1618.7 1613.2,1621.0 1608.6,1621.0 1608.6,1619.8 1603.6,1619.8 1603.6,1614.2 1599.6,1614.2 1599.6,1614.2 1596.3,1614.2 1596.3,1621.0 1592.9,1621.0 1592.9,1623.2 1584.0,1623.2" fill="#ff0000" stroke="none"/>
<polygon points="1693.8,1619.5 1693.8,1602.2 1696.1,1602.2 1696.1,1593.0 1698.8,1593.0 1698.8,1586.0 1699.7,1586.0 1699.7,1588.0 1701.6,1588.0 1701.6,1602.2 1704.7,1602.2 1704.7,1610.0 1706.6,1610.0 1706.6,1619.5" fill="#ff0000" stroke="#ff0000" stroke-width="6.0" stroke-linejoin="round"/>
<polygon points="1720.3,1619.5 1720.3,1588.0 1722.6,1588.0 1722.6,1580.7 1724.7,1580.7 1724.7,1578.4 1724.7,1578.4 1724.7,1581.0 1725.8,1581.0 1725.8,1583.4 1728.5,1583.4 1728.5,1588.0 1730.8,1588.0 1730.8,1602.2 1733.2,1602.2 1733.2,1619.5" fill="#ff0000" stroke="#ff0000" stroke-width="6.0" stroke-linejoin="round"/>
<polygon points="1919.0,1619.5 1919.0,1603.0 1923.0,1603.0 1923.0,1571.5 1927.0,1571.5 1927.0,1608.0 1931.0,1608.0 1931.0,1619.5" fill="#ff0000" stroke="#ff0000" stroke-width="6.0" stroke-linejoin="round"/>
<polygon points="1991.5,1619.5 1991.5,1615.0 1995.0,1615.0 1995.0,1609.7 1996.0,1609.7 1996.0,1615.0 1999.0,1615.0 1999.0,1619.5" fill="#ff0000" stroke="#ff0000" stroke-width="6.0" stroke-linejoin="round"/>
<polygon points="2056.5,1619.5 2056.5,1616.0 2061.0,1616.0 2061.0,1611.0 2064.0,1611.0 2064.0,1607.4 2066.0,1607.4 2066.0,1612.0 2071.0,1612.0 2071.0,1617.0 2079.0,1617.0 2079.0,1619.5" fill="#ff0000" stroke="#ff0000" stroke-width="6.0" stroke-linejoin="round"/>
<polyline points="1393.9,1618.4 1585.0,1618.4" fill="none" stroke="#ff0000" stroke-width="8.5" stroke-linejoin="round" stroke-linecap="butt"/>
<polyline points="1685.0,1619.0 1780.0,1617.4 1780.1,1617.4 1781.2,1617.3 1782.2,1617.3 1783.2,1617.3 1784.2,1617.2 1785.2,1617.2 1786.1,1617.1 1787.0,1617.0 1787.9,1617.0 1788.8,1616.9 1789.7,1616.9 1790.5,1616.8 1791.4,1616.7 1792.2,1616.7 1793.0,1616.6 1793.8,1616.5 1794.5,1616.4 1795.3,1616.4 1796.0,1616.3 1796.8,1616.2 1797.5,1616.1 1798.2,1616.0 1798.8,1615.9 1799.5,1615.8 1800.2,1615.7 1800.8,1615.6 1801.4,1615.5 1802.1,1615.3 1802.7,1615.2 1803.3,1615.1 1803.8,1614.9 1804.4,1614.8 1805.0,1614.6 1805.5,1614.5 1806.0,1614.3 1806.6,1614.2 1807.1,1614.0 1807.6,1613.8 1808.1,1613.6 1808.6,1613.4 1809.0,1613.2 1809.5,1613.0 1810.0,1612.8 1810.4,1612.5 1810.9,1612.3 1811.3,1612.0 1811.7,1611.8 1812.1,1611.5 1812.5,1611.2 1812.9,1610.9 1813.3,1610.6 1813.7,1610.2 1814.1,1609.9 1814.4,1609.6 1814.8,1609.2 1815.2,1608.8 1815.5,1608.4 1815.8,1608.0 1816.2,1607.6 1816.5,1607.1 1816.8,1606.6 1817.1,1606.1 1817.5,1605.6 1817.8,1605.1 1818.1,1604.5 1818.3,1604.0 1818.6,1603.4 1818.9,1602.7 1819.2,1602.1 1819.5,1601.4 1819.7,1600.7 1820.0,1600.0 1820.2,1599.2 1820.5,1598.4 1820.7,1597.6 1821.0,1596.7 1821.2,1595.8 1821.5,1594.8 1821.7,1593.9 1821.9,1592.8 1822.1,1591.8 1822.4,1590.7 1822.6,1589.5 1822.8,1588.3 1823.0,1587.0 1823.2,1585.7 1823.4,1584.4 1823.6,1583.0 1823.8,1581.5 1824.0,1579.9 1824.2,1578.3 1824.4,1576.7 1824.5,1574.9 1824.7,1573.1 1824.9,1571.2 1825.1,1569.3 1825.3,1567.2 1825.4,1565.1 1825.6,1562.9 1825.8,1560.6 1825.9,1558.1 1826.1,1555.6 1826.3,1553.0 1826.4,1550.3 1826.6,1547.5 1826.7,1544.5 1826.9,1541.4 1827.0,1538.2 1827.2,1534.9 1827.3,1531.4 1827.5,1527.8 1827.6,1524.0 1827.8,1520.1 1827.9,1516.0 1828.1,1511.7 1828.3,1507.2 1828.4,1502.6 1828.6,1497.8 1828.7,1492.8 1828.9,1487.5 1829.0,1482.1 1829.2,1476.4 1829.4,1470.5 1829.5,1464.3 1829.5,1457.9 1829.5,1451.2 1829.5,1444.2 1829.5,1437.0 1829.5,1429.4 1829.5,1421.5 1833.5,1421.5 1833.5,1429.4 1833.5,1437.0 1833.5,1444.2 1833.5,1451.2 1833.5,1457.9 1833.5,1464.3 1833.6,1470.5 1833.8,1476.4 1834.0,1482.1 1834.1,1487.5 1834.3,1492.8 1834.4,1497.8 1834.6,1502.6 1834.7,1507.2 1834.9,1511.7 1835.1,1516.0 1835.2,1520.1 1835.4,1524.0 1835.5,1527.8 1835.7,1531.4 1835.8,1534.9 1836.0,1538.2 1836.1,1541.4 1836.3,1544.5 1836.4,1547.5 1836.6,1550.3 1836.7,1553.0 1836.9,1555.6 1837.1,1558.1 1837.2,1560.6 1837.4,1562.9 1837.6,1565.1 1837.7,1567.2 1837.9,1569.3 1838.1,1571.2 1838.3,1573.1 1838.5,1574.9 1838.6,1576.7 1838.8,1578.3 1839.0,1579.9 1839.2,1581.5 1839.4,1583.0 1839.6,1584.4 1839.8,1585.7 1840.0,1587.0 1840.2,1588.3 1840.4,1589.5 1840.6,1590.7 1840.9,1591.8 1841.1,1592.8 1841.3,1593.9 1841.5,1594.8 1841.8,1595.8 1842.0,1596.7 1842.3,1597.6 1842.5,1598.4 1842.8,1599.2 1843.0,1600.0 1843.3,1600.7 1843.5,1601.4 1843.8,1602.1 1844.1,1602.7 1844.4,1603.4 1844.7,1604.0 1844.9,1604.5 1845.2,1605.1 1845.5,1605.6 1845.9,1606.1 1846.2,1606.6 1846.5,1607.1 1846.8,1607.6 1847.2,1608.0 1847.5,1608.4 1847.8,1608.8 1848.2,1609.2 1848.6,1609.6 1848.9,1609.9 1849.3,1610.2 1849.7,1610.6 1850.1,1610.9 1850.5,1611.2 1850.9,1611.5 1851.3,1611.8 1851.7,1612.0 1852.1,1612.3 1852.6,1612.5 1853.0,1612.8 1853.5,1613.0 1854.0,1613.2 1854.4,1613.4 1854.9,1613.6 1855.4,1613.8 1855.9,1614.0 1856.4,1614.2 1857.0,1614.3 1857.5,1614.5 1858.0,1614.6 1858.6,1614.8 1859.2,1614.9 1859.7,1615.1 1860.3,1615.2 1860.9,1615.3 1861.6,1615.5 1862.2,1615.6 1862.8,1615.7 1863.5,1615.8 1864.2,1615.9 1864.8,1616.0 1865.5,1616.1 1866.2,1616.2 1867.0,1616.3 1867.7,1616.4 1868.5,1616.4 1869.2,1616.5 1870.0,1616.6 1870.8,1616.7 1871.6,1616.7 1872.5,1616.8 1873.3,1616.9 1874.2,1616.9 1875.1,1617.0 1876.0,1617.0 1876.9,1617.1 1877.8,1617.2 1878.8,1617.2 1879.8,1617.3 1880.8,1617.3 1881.8,1617.3 1882.9,1617.4 1883.9,1617.4 1885.0,1617.5 1886.1,1617.5 1887.2,1617.5 1888.4,1617.6 1889.6,1617.6 1890.8,1617.6 1892.0,1617.7 1893.3,1617.7 1894.5,1617.7 1895.8,1617.8 1897.2,1617.8 1898.5,1617.8 1899.9,1617.8 1901.3,1617.8 1902.8,1617.9 1904.3,1617.9 1905.8,1617.9 1907.3,1617.9 1908.9,1618.0 1910.0,1618.0 2254.7,1618.5" fill="none" stroke="#ff0000" stroke-width="8.5" stroke-linejoin="round" stroke-linecap="butt"/>
<polygon points="1825.5,1417.3 1837.5,1417.3 1838.5,1531.5 1843.0,1584.6 1818.8,1584.6 1821.0,1531.5" fill="#ff0000" stroke="none"/>
<polygon points="1994.4,1949.0 1994.4,1929.8 2001.8,1929.8 2001.8,1949.0" fill="#000000" stroke="#000000" stroke-width="6.0" stroke-linejoin="round"/>
<polygon points="2059.4,1949.0 2059.4,1941.0 2065.0,1941.0 2065.0,1921.8 2075.0,1921.8 2075.0,1941.0 2083.3,1941.0 2083.3,1949.0" fill="#000000" stroke="#000000" stroke-width="6.0" stroke-linejoin="round"/>
<polyline points="1394.3,1949.0 1824.0,1949.0 1828.0,1946.0 1831.0,1940.0 1831.1,1920.0" fill="none" stroke="#000000" stroke-width="7.0" stroke-linejoin="round" stroke-linecap="butt"/>
<polyline points="1833.6,1920.0 1833.6,1940.0 1838.0,1946.0 1842.0,1949.0 2249.8,1949.0" fill="none" stroke="#000000" stroke-width="7.0" stroke-linejoin="round" stroke-linecap="butt"/>
<polyline points="1833.2,1838.0 1832.8,1213.5" fill="none" stroke="#000000" stroke-width="6" stroke-linejoin="round" stroke-dasharray="8 10"/>
<polyline points="1832.5,1920.0 1833.2,1838.0" fill="none" stroke="#000000" stroke-width="6.5" stroke-linejoin="round" stroke-dasharray="10 3"/>
<rect x="28.5" y="912.2" width="1218.9" height="7.3" fill="#000"/>
<rect x="28.6" y="915.9" width="7.2" height="7.6" fill="#000"/>
<rect x="121.8" y="915.9" width="7.2" height="17.6" fill="#000"/>
<rect x="215.0" y="915.9" width="7.2" height="7.6" fill="#000"/>
<rect x="308.1" y="915.9" width="7.2" height="17.6" fill="#000"/>
<rect x="401.3" y="915.9" width="7.2" height="7.6" fill="#000"/>
<rect x="494.5" y="915.9" width="7.2" height="17.6" fill="#000"/>
<rect x="587.6" y="915.9" width="7.2" height="7.6" fill="#000"/>
<rect x="680.8" y="915.9" width="7.2" height="17.6" fill="#000"/>
<rect x="774.0" y="915.9" width="7.2" height="7.6" fill="#000"/>
<rect x="867.1" y="915.9" width="7.2" height="17.6" fill="#000"/>
<rect x="960.3" y="915.9" width="7.2" height="7.6" fill="#000"/>
<rect x="1053.5" y="915.9" width="7.2" height="17.6" fill="#000"/>
<rect x="1146.6" y="915.9" width="7.2" height="7.6" fill="#000"/>
<text x="122.6" y="987.0" font-size="55" font-weight="bold" text-anchor="middle">2</text>
<text x="310.4" y="987.0" font-size="55" font-weight="bold" text-anchor="middle">3</text>
<text x="496.6" y="987.0" font-size="55" font-weight="bold" text-anchor="middle">4</text>
<text x="684.2" y="987.0" font-size="55" font-weight="bold" text-anchor="middle">5</text>
<text x="869.1" y="987.0" font-size="55" font-weight="bold" text-anchor="middle">6</text>
<text x="1056.0" y="987.0" font-size="55" font-weight="bold" text-anchor="middle">7</text>
<text x="1241.3" y="987.0" font-size="55" font-weight="bold" text-anchor="middle">8</text>
<text x="636.5" y="1034.1" font-size="54" font-weight="bold" text-anchor="middle"><tspan font-size="47.5">&#948;</tspan><tspan font-weight="normal" dx="2">/</tspan><tspan dx="2" letter-spacing="2">ppm</tspan></text>
<rect x="1307.5" y="912.1" width="1120.5" height="7.3" fill="#000"/>
<rect x="1308.5" y="915.8" width="7.2" height="7.6" fill="#000"/>
<rect x="1394.0" y="915.8" width="7.2" height="17.6" fill="#000"/>
<rect x="1479.5" y="915.8" width="7.2" height="7.6" fill="#000"/>
<rect x="1565.1" y="915.8" width="7.2" height="17.6" fill="#000"/>
<rect x="1650.6" y="915.8" width="7.2" height="7.6" fill="#000"/>
<rect x="1736.2" y="915.8" width="7.2" height="17.6" fill="#000"/>
<rect x="1821.7" y="915.8" width="7.2" height="7.6" fill="#000"/>
<rect x="1907.2" y="915.8" width="7.2" height="17.6" fill="#000"/>
<rect x="1992.8" y="915.8" width="7.2" height="7.6" fill="#000"/>
<rect x="2078.3" y="915.8" width="7.2" height="17.6" fill="#000"/>
<rect x="2163.9" y="915.8" width="7.2" height="7.6" fill="#000"/>
<rect x="2249.4" y="915.8" width="7.2" height="17.6" fill="#000"/>
<rect x="2334.9" y="915.8" width="7.2" height="7.6" fill="#000"/>
<text x="1395.1" y="989.0" font-size="55" font-weight="bold" text-anchor="middle">2</text>
<text x="1565.9" y="989.0" font-size="55" font-weight="bold" text-anchor="middle">3</text>
<text x="1736.5" y="989.0" font-size="55" font-weight="bold" text-anchor="middle">4</text>
<text x="1910.4" y="989.0" font-size="55" font-weight="bold" text-anchor="middle">5</text>
<text x="2080.7" y="989.0" font-size="55" font-weight="bold" text-anchor="middle">6</text>
<text x="2251.0" y="989.0" font-size="55" font-weight="bold" text-anchor="middle">7</text>
<text x="2421.9" y="989.0" font-size="55" font-weight="bold" text-anchor="middle">8</text>
<text x="1866.0" y="1038.8" font-size="54" font-weight="bold" text-anchor="middle"><tspan font-size="47.5">&#948;</tspan><tspan font-weight="normal" dx="2">/</tspan><tspan dx="2" letter-spacing="2">ppm</tspan></text>
<rect x="28.5" y="2048.5" width="1132.2" height="7.3" fill="#000"/>
<rect x="28.5" y="2052.2" width="7.2" height="7.6" fill="#000"/>
<rect x="115.0" y="2052.2" width="7.2" height="17.6" fill="#000"/>
<rect x="201.5" y="2052.2" width="7.2" height="7.6" fill="#000"/>
<rect x="288.0" y="2052.2" width="7.2" height="17.6" fill="#000"/>
<rect x="374.5" y="2052.2" width="7.2" height="7.6" fill="#000"/>
<rect x="461.0" y="2052.2" width="7.2" height="17.6" fill="#000"/>
<rect x="547.5" y="2052.2" width="7.2" height="7.6" fill="#000"/>
<rect x="634.1" y="2052.2" width="7.2" height="17.6" fill="#000"/>
<rect x="720.6" y="2052.2" width="7.2" height="7.6" fill="#000"/>
<rect x="807.1" y="2052.2" width="7.2" height="17.6" fill="#000"/>
<rect x="893.6" y="2052.2" width="7.2" height="7.6" fill="#000"/>
<rect x="980.1" y="2052.2" width="7.2" height="17.6" fill="#000"/>
<rect x="1066.6" y="2052.2" width="7.2" height="7.6" fill="#000"/>
<text x="116.0" y="2123.2" font-size="55" font-weight="normal" text-anchor="middle">2</text>
<text x="288.1" y="2123.2" font-size="55" font-weight="normal" text-anchor="middle">3</text>
<text x="463.9" y="2123.2" font-size="55" font-weight="normal" text-anchor="middle">4</text>
<text x="635.3" y="2123.2" font-size="55" font-weight="normal" text-anchor="middle">5</text>
<text x="810.6" y="2123.2" font-size="55" font-weight="normal" text-anchor="middle">6</text>
<text x="980.0" y="2123.2" font-size="55" font-weight="normal" text-anchor="middle">7</text>
<text x="1157.9" y="2123.2" font-size="55" font-weight="normal" text-anchor="middle">8</text>
<text x="593.0" y="2175.2" font-size="54" font-weight="bold" text-anchor="middle"><tspan font-size="47.5">&#948;</tspan><tspan font-weight="normal" dx="2">/</tspan><tspan dx="2" letter-spacing="2">ppm</tspan></text>
<rect x="1309.2" y="2044.0" width="1087.7" height="7.3" fill="#000"/>
<rect x="1311.0" y="2047.7" width="7.2" height="7.6" fill="#000"/>
<rect x="1394.0" y="2047.7" width="7.2" height="17.6" fill="#000"/>
<rect x="1477.0" y="2047.7" width="7.2" height="7.6" fill="#000"/>
<rect x="1560.0" y="2047.7" width="7.2" height="17.6" fill="#000"/>
<rect x="1642.9" y="2047.7" width="7.2" height="7.6" fill="#000"/>
<rect x="1725.9" y="2047.7" width="7.2" height="17.6" fill="#000"/>
<rect x="1808.9" y="2047.7" width="7.2" height="7.6" fill="#000"/>
<rect x="1891.8" y="2047.7" width="7.2" height="17.6" fill="#000"/>
<rect x="1974.8" y="2047.7" width="7.2" height="7.6" fill="#000"/>
<rect x="2057.8" y="2047.7" width="7.2" height="17.6" fill="#000"/>
<rect x="2140.8" y="2047.7" width="7.2" height="7.6" fill="#000"/>
<rect x="2223.8" y="2047.7" width="7.2" height="17.6" fill="#000"/>
<rect x="2306.7" y="2047.7" width="7.2" height="7.6" fill="#000"/>
<text x="1395.3" y="2118.2" font-size="55" font-weight="normal" text-anchor="middle">2</text>
<text x="1559.5" y="2118.2" font-size="55" font-weight="normal" text-anchor="middle">3</text>
<text x="1726.5" y="2118.2" font-size="55" font-weight="normal" text-anchor="middle">4</text>
<text x="1892.1" y="2118.2" font-size="55" font-weight="normal" text-anchor="middle">5</text>
<text x="2058.8" y="2118.2" font-size="55" font-weight="normal" text-anchor="middle">6</text>
<text x="2223.9" y="2118.2" font-size="55" font-weight="normal" text-anchor="middle">7</text>
<text x="2390.8" y="2118.2" font-size="55" font-weight="normal" text-anchor="middle">8</text>
<text x="1851.0" y="2170.6" font-size="54" font-weight="bold" text-anchor="middle"><tspan font-size="47.5">&#948;</tspan><tspan font-weight="normal" dx="2">/</tspan><tspan dx="2" letter-spacing="2">ppm</tspan></text>
<text x="205.5" y="217.2" font-size="80">(a)</text>
<text x="1333.7" y="216.5" font-size="80">(b)</text>
<text x="205" y="1226" font-size="80">(c)</text>
<text x="1333.5" y="1226" font-size="80">(d)</text>
<text x="907.5" y="496.1" font-size="60.5">sample G</text>
<text x="908.0" y="666.2" font-size="60.5">Glucose</text>
<text x="950.5" y="799.0" font-size="60.5">AM</text>
<text x="2129.0" y="411.4" font-size="60.5">sample F</text>
<text x="2128.0" y="717.6" font-size="60.5" letter-spacing="0.5">Frucose</text>
<text x="2158.5" y="808.3" font-size="60.5">AM</text>
<text x="862.0" y="1632.1" font-size="60.5">sample M</text>
<text x="861.5" y="1829.3" font-size="60.5">Maltose</text>
<text x="907.5" y="1940.2" font-size="60.5">AM</text>
<text x="2084.0" y="1603.2" font-size="60.5" letter-spacing="-0.2">sample S</text>
<text x="2083.5" y="1803.8" font-size="60.5" letter-spacing="0.6">Surcose</text>
<text x="2129.5" y="1940.3" font-size="60.5">AM</text>
</svg></body></html>
